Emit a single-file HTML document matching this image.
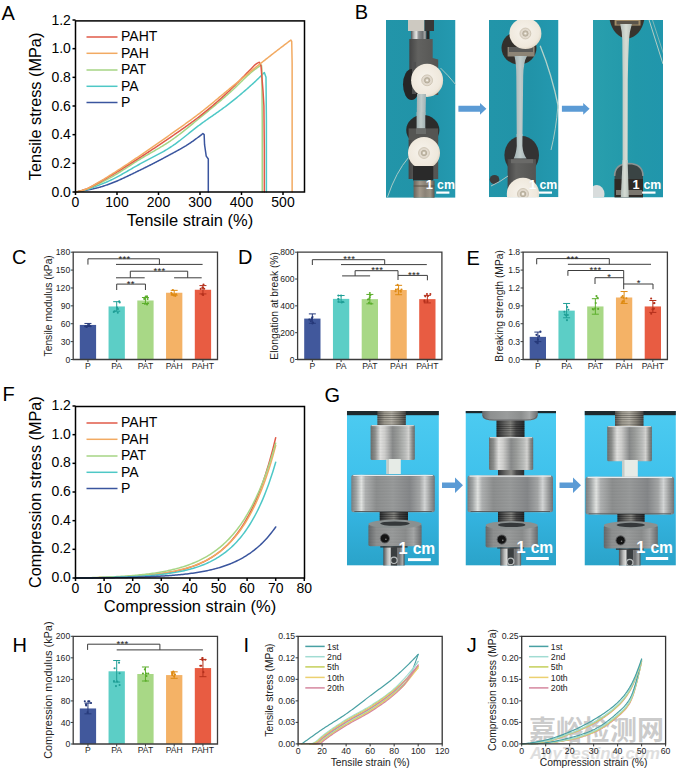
<!DOCTYPE html><html><head><meta charset="utf-8"><title>Figure</title><style>html,body{margin:0;padding:0;background:#fff;}svg{display:block;}</style></head><body>
<svg width="680" height="771" viewBox="0 0 680 771" font-family="'Liberation Sans', Arial, sans-serif">
<rect width="680" height="771" fill="#fff"/>
<defs>
<linearGradient id="tealB" x1="0" y1="0" x2="1" y2="0"><stop offset="0" stop-color="#2295a9"/><stop offset="0.6" stop-color="#2193a8"/><stop offset="1" stop-color="#2499b0"/></linearGradient><linearGradient id="tealB3" x1="0" y1="0" x2="1" y2="0"><stop offset="0" stop-color="#299fad"/><stop offset="0.6" stop-color="#2298aa"/><stop offset="1" stop-color="#2196ac"/></linearGradient>
<linearGradient id="cyanG" x1="0" y1="0" x2="0" y2="1"><stop offset="0" stop-color="#4ccbf1"/><stop offset="0.4" stop-color="#40c2ec"/><stop offset="0.7" stop-color="#33b2de"/><stop offset="1" stop-color="#2aa3c9"/></linearGradient>
<linearGradient id="metal" x1="0" y1="0" x2="1" y2="0"><stop offset="0" stop-color="#5e6062"/><stop offset="0.12" stop-color="#9a9c9c"/><stop offset="0.28" stop-color="#d9dad8"/><stop offset="0.4" stop-color="#a8aaaa"/><stop offset="0.55" stop-color="#6c6e70"/><stop offset="0.72" stop-color="#8e9092"/><stop offset="0.88" stop-color="#c4c6c6"/><stop offset="1" stop-color="#6a6c6e"/></linearGradient>
<linearGradient id="metal2" x1="0" y1="0" x2="1" y2="0"><stop offset="0" stop-color="#4e5052"/><stop offset="0.2" stop-color="#b8b9b8"/><stop offset="0.35" stop-color="#e6e6e4"/><stop offset="0.5" stop-color="#8c8e90"/><stop offset="0.75" stop-color="#6e7072"/><stop offset="0.9" stop-color="#a8aaaa"/><stop offset="1" stop-color="#505254"/></linearGradient>
<linearGradient id="metalD" x1="0" y1="0" x2="1" y2="0"><stop offset="0" stop-color="#7c8082"/><stop offset="0.06" stop-color="#a4a8a8"/><stop offset="0.12" stop-color="#e4e6e4"/><stop offset="0.17" stop-color="#b0b2b2"/><stop offset="0.3" stop-color="#8e9090"/><stop offset="0.5" stop-color="#9a9c9c"/><stop offset="0.7" stop-color="#86888a"/><stop offset="0.82" stop-color="#a6a8a8"/><stop offset="0.88" stop-color="#d6d8d8"/><stop offset="0.94" stop-color="#a2a4a4"/><stop offset="1" stop-color="#72767a"/></linearGradient>
<linearGradient id="metalC" x1="0" y1="0" x2="1" y2="0"><stop offset="0" stop-color="#6e706e"/><stop offset="0.1" stop-color="#8e908e"/><stop offset="0.22" stop-color="#e2e2e0"/><stop offset="0.32" stop-color="#d0d0ce"/><stop offset="0.5" stop-color="#8a8c8c"/><stop offset="0.62" stop-color="#9c9e9c"/><stop offset="0.78" stop-color="#bcbebc"/><stop offset="0.86" stop-color="#d6d6d4"/><stop offset="0.94" stop-color="#8e908e"/><stop offset="1" stop-color="#6a6c6c"/></linearGradient>
<pattern id="fine" width="6" height="1.5" patternUnits="userSpaceOnUse"><rect y="0.9" width="6" height="0.6" fill="#000" fill-opacity="0.06"/></pattern>
<linearGradient id="nut" x1="0" y1="0" x2="1" y2="0"><stop offset="0" stop-color="#6a625a"/><stop offset="0.3" stop-color="#a49a8c"/><stop offset="0.55" stop-color="#8a8276"/><stop offset="0.8" stop-color="#9c9486"/><stop offset="1" stop-color="#5c554e"/></linearGradient>
<linearGradient id="threadL" x1="0" y1="0" x2="1" y2="0"><stop offset="0" stop-color="#5e5c58"/><stop offset="0.25" stop-color="#a6a296"/><stop offset="0.5" stop-color="#bdb9ae"/><stop offset="0.75" stop-color="#8c887e"/><stop offset="1" stop-color="#4e4c4a"/></linearGradient>
<linearGradient id="knurl" x1="0" y1="0" x2="1" y2="0"><stop offset="0" stop-color="#66696b"/><stop offset="0.15" stop-color="#8e9090"/><stop offset="0.45" stop-color="#9a9c9c"/><stop offset="0.7" stop-color="#8c8e8e"/><stop offset="0.85" stop-color="#a6a8a8"/><stop offset="1" stop-color="#6a6c6e"/></linearGradient>
<linearGradient id="thread" x1="0" y1="0" x2="1" y2="0"><stop offset="0" stop-color="#2e3032"/><stop offset="0.3" stop-color="#6a6a68"/><stop offset="0.5" stop-color="#8a8a86"/><stop offset="0.7" stop-color="#4a4a4a"/><stop offset="1" stop-color="#2a2c2e"/></linearGradient>
<pattern id="threads" width="4" height="2.2" patternUnits="userSpaceOnUse"><rect width="4" height="2.2" fill="none"/><rect y="1.3" width="4" height="0.9" fill="#000" fill-opacity="0.35"/></pattern>
<linearGradient id="grip" x1="0" y1="0" x2="1" y2="0"><stop offset="0" stop-color="#444444"/><stop offset="0.3" stop-color="#626260"/><stop offset="1" stop-color="#545452"/></linearGradient>
<radialGradient id="cream" cx="0.45" cy="0.45" r="0.6"><stop offset="0" stop-color="#f7f3ec"/><stop offset="0.8" stop-color="#efe8dc"/><stop offset="1" stop-color="#ddd2c0"/></radialGradient>
<linearGradient id="strip" x1="0" y1="0" x2="1" y2="0"><stop offset="0" stop-color="#9fb0b2"/><stop offset="0.5" stop-color="#c0cccb"/><stop offset="1" stop-color="#a2b2b4"/></linearGradient>
<linearGradient id="strip3" x1="0" y1="0" x2="1" y2="0"><stop offset="0" stop-color="#b2bdb8"/><stop offset="0.5" stop-color="#d6dcd4"/><stop offset="1" stop-color="#b6c0ba"/></linearGradient>
<clipPath id="cB1"><rect x="386" y="20" width="69.5" height="177.8"/></clipPath>
<clipPath id="cB2"><rect x="489" y="20" width="69.5" height="177.2"/></clipPath>
<clipPath id="cB3"><rect x="593" y="20" width="70" height="177.5"/></clipPath>
<clipPath id="cG1"><rect x="346.9" y="411" width="92" height="154.6"/></clipPath>
<clipPath id="cG2"><rect x="465.5" y="411" width="90.5" height="154.6"/></clipPath>
<clipPath id="cG3"><rect x="584.5" y="411" width="91.4" height="154.6"/></clipPath>
</defs>
<text x="1.5" y="20" font-size="20" text-anchor="start" fill="#000" >A</text>
<text x="354.8" y="19.3" font-size="20" text-anchor="start" fill="#000" >B</text>
<text x="12" y="263.6" font-size="20" text-anchor="start" fill="#000" >C</text>
<text x="238" y="264" font-size="20" text-anchor="start" fill="#000" >D</text>
<text x="466.5" y="265" font-size="20" text-anchor="start" fill="#000" >E</text>
<text x="2.6" y="401" font-size="20" text-anchor="start" fill="#000" >F</text>
<text x="324.5" y="402" font-size="20" text-anchor="start" fill="#000" >G</text>
<text x="12.5" y="651.5" font-size="20" text-anchor="start" fill="#000" >H</text>
<text x="243.5" y="651.5" font-size="20" text-anchor="start" fill="#000" >I</text>
<text x="466.7" y="651.5" font-size="20" text-anchor="start" fill="#000" >J</text>
<path d="M75.5,192 L76.14,191.91 L76.78,191.81 L77.42,191.72 L78.06,191.62 L78.7,191.52 L79.34,191.42 L79.98,191.31 L80.62,191.21 L81.26,191.1 L81.9,190.99 L82.54,190.88 L83.18,190.77 L83.82,190.65 L84.46,190.54 L85.1,190.42 L85.74,190.3 L86.38,190.18 L87.02,190.06 L87.66,189.94 L88.3,189.82 L88.94,189.69 L89.58,189.57 L90.23,189.44 L90.87,189.31 L91.51,189.18 L92.15,189.04 L92.79,188.91 L93.43,188.77 L94.07,188.62 L94.71,188.48 L95.35,188.33 L95.99,188.18 L96.63,188.02 L97.27,187.86 L97.91,187.7 L98.55,187.53 L99.19,187.36 L99.83,187.18 L100.47,187 L101.11,186.81 L101.75,186.62 L102.39,186.42 L103.03,186.22 L103.67,186.02 L104.31,185.81 L104.95,185.59 L105.59,185.38 L106.23,185.16 L106.87,184.94 L107.51,184.71 L108.15,184.48 L108.79,184.25 L109.43,184.02 L110.07,183.78 L110.71,183.54 L111.35,183.3 L111.99,183.06 L112.63,182.81 L113.27,182.55 L113.91,182.3 L114.55,182.04 L115.19,181.77 L115.83,181.51 L116.47,181.24 L117.11,180.96 L117.75,180.69 L118.4,180.41 L119.04,180.13 L119.68,179.84 L120.32,179.56 L120.96,179.27 L121.6,178.98 L122.24,178.69 L122.88,178.39 L123.52,178.09 L124.16,177.8 L124.8,177.5 L125.44,177.19 L126.08,176.89 L126.72,176.59 L127.36,176.28 L128,175.97 L128.64,175.66 L129.28,175.35 L129.92,175.04 L130.56,174.73 L131.2,174.42 L131.84,174.11 L132.48,173.8 L133.12,173.48 L133.76,173.17 L134.4,172.86 L135.04,172.55 L135.68,172.23 L136.32,171.92 L136.96,171.61 L137.6,171.29 L138.24,170.98 L138.88,170.67 L139.52,170.36 L140.16,170.05 L140.8,169.74 L141.44,169.43 L142.08,169.12 L142.72,168.8 L143.36,168.49 L144,168.17 L144.64,167.85 L145.28,167.54 L145.92,167.22 L146.57,166.9 L147.21,166.58 L147.85,166.26 L148.49,165.94 L149.13,165.61 L149.77,165.29 L150.41,164.96 L151.05,164.64 L151.69,164.31 L152.33,163.99 L152.97,163.66 L153.61,163.33 L154.25,163 L154.89,162.67 L155.53,162.34 L156.17,162.01 L156.81,161.67 L157.45,161.34 L158.09,161 L158.73,160.67 L159.37,160.33 L160.01,160 L160.65,159.66 L161.29,159.32 L161.93,158.98 L162.57,158.64 L163.21,158.3 L163.85,157.96 L164.49,157.62 L165.13,157.28 L165.77,156.94 L166.41,156.59 L167.05,156.25 L167.69,155.9 L168.33,155.56 L168.97,155.21 L169.61,154.87 L170.25,154.52 L170.89,154.17 L171.53,153.83 L172.17,153.48 L172.81,153.14 L173.45,152.79 L174.09,152.44 L174.74,152.1 L175.38,151.75 L176.02,151.4 L176.66,151.06 L177.3,150.71 L177.94,150.35 L178.58,150 L179.22,149.64 L179.86,149.29 L180.5,148.93 L181.14,148.56 L181.78,148.19 L182.42,147.82 L183.06,147.45 L183.7,147.07 L184.34,146.69 L184.98,146.3 L185.62,145.91 L186.26,145.52 L186.9,145.11 L187.54,144.71 L188.18,144.3 L188.82,143.88 L189.46,143.46 L190.1,143.03 L190.74,142.6 L191.38,142.16 L192.02,141.71 L192.66,141.27 L193.3,140.81 L193.94,140.36 L194.58,139.9 L195.22,139.43 L195.86,138.96 L196.5,138.48 L197.14,138.01 L197.78,137.52 L198.42,137.04 L199.06,136.54 L199.7,136.05 L200.34,135.55 L200.98,135.05 L201.62,134.54 L202.26,134.03 L202.9,133.52 L204.15,134.67 L204.56,144.7 L206.22,156.17 L208.3,159.03 L208.3,192" fill="none" stroke="#3a559e" stroke-width="1.5" stroke-linejoin="round" stroke-linecap="round" />
<path d="M75.5,192 L76.45,191.86 L77.4,191.71 L78.35,191.54 L79.3,191.37 L80.24,191.18 L81.19,190.98 L82.14,190.76 L83.09,190.54 L84.04,190.32 L84.99,190.08 L85.94,189.83 L86.89,189.57 L87.84,189.29 L88.78,188.99 L89.73,188.67 L90.68,188.33 L91.63,187.98 L92.58,187.63 L93.53,187.26 L94.48,186.89 L95.43,186.52 L96.38,186.15 L97.32,185.78 L98.27,185.41 L99.22,185.04 L100.17,184.67 L101.12,184.3 L102.07,183.92 L103.02,183.54 L103.97,183.15 L104.91,182.75 L105.86,182.35 L106.81,181.94 L107.76,181.53 L108.71,181.1 L109.66,180.67 L110.61,180.22 L111.56,179.77 L112.51,179.3 L113.45,178.83 L114.4,178.35 L115.35,177.86 L116.3,177.36 L117.25,176.86 L118.2,176.35 L119.15,175.83 L120.1,175.31 L121.05,174.78 L121.99,174.25 L122.94,173.72 L123.89,173.18 L124.84,172.63 L125.79,172.09 L126.74,171.54 L127.69,170.99 L128.64,170.44 L129.59,169.89 L130.53,169.34 L131.48,168.79 L132.43,168.24 L133.38,167.69 L134.33,167.15 L135.28,166.6 L136.23,166.06 L137.18,165.53 L138.13,164.99 L139.07,164.47 L140.02,163.94 L140.97,163.42 L141.92,162.91 L142.87,162.4 L143.82,161.9 L144.77,161.39 L145.72,160.89 L146.67,160.4 L147.61,159.9 L148.56,159.41 L149.51,158.92 L150.46,158.42 L151.41,157.93 L152.36,157.44 L153.31,156.94 L154.26,156.45 L155.21,155.95 L156.15,155.45 L157.1,154.94 L158.05,154.44 L159,153.92 L159.95,153.41 L160.9,152.88 L161.85,152.35 L162.8,151.82 L163.74,151.28 L164.69,150.73 L165.64,150.17 L166.59,149.61 L167.54,149.03 L168.49,148.45 L169.44,147.86 L170.39,147.25 L171.34,146.63 L172.28,146 L173.23,145.35 L174.18,144.69 L175.13,144.02 L176.08,143.33 L177.03,142.63 L177.98,141.93 L178.93,141.21 L179.88,140.49 L180.82,139.75 L181.77,139.01 L182.72,138.27 L183.67,137.52 L184.62,136.76 L185.57,136 L186.52,135.24 L187.47,134.48 L188.42,133.72 L189.36,132.95 L190.31,132.19 L191.26,131.43 L192.21,130.67 L193.16,129.91 L194.11,129.16 L195.06,128.41 L196.01,127.67 L196.96,126.94 L197.9,126.21 L198.85,125.49 L199.8,124.78 L200.75,124.08 L201.7,123.39 L202.65,122.7 L203.6,122.01 L204.55,121.33 L205.5,120.66 L206.44,119.99 L207.39,119.32 L208.34,118.65 L209.29,117.99 L210.24,117.33 L211.19,116.67 L212.14,116.01 L213.09,115.35 L214.03,114.68 L214.98,114.02 L215.93,113.36 L216.88,112.7 L217.83,112.03 L218.78,111.36 L219.73,110.68 L220.68,110.01 L221.63,109.33 L222.57,108.64 L223.52,107.95 L224.47,107.25 L225.42,106.54 L226.37,105.83 L227.32,105.12 L228.27,104.39 L229.22,103.65 L230.17,102.91 L231.11,102.16 L232.06,101.41 L233.01,100.65 L233.96,99.89 L234.91,99.12 L235.86,98.35 L236.81,97.57 L237.76,96.79 L238.71,96 L239.65,95.21 L240.6,94.41 L241.55,93.61 L242.5,92.8 L243.45,91.99 L244.4,91.17 L245.35,90.35 L246.3,89.52 L247.25,88.69 L248.19,87.85 L249.14,87.01 L250.09,86.16 L251.04,85.3 L251.99,84.44 L252.94,83.58 L253.89,82.71 L254.84,81.83 L255.79,80.95 L256.73,80.06 L257.68,79.16 L258.63,78.26 L259.58,77.33 L260.53,76.38 L261.48,75.42 L262.43,74.44 L263.38,73.45 L264.32,72.46 L265.99,77.34 L266.4,120.33 L266.4,192" fill="none" stroke="#4ec8c6" stroke-width="1.5" stroke-linejoin="round" stroke-linecap="round" />
<path d="M75.5,192 L76.43,191.84 L77.37,191.67 L78.3,191.47 L79.24,191.26 L80.17,191.04 L81.11,190.8 L82.04,190.56 L82.97,190.29 L83.91,190.02 L84.84,189.74 L85.78,189.45 L86.71,189.14 L87.65,188.81 L88.58,188.45 L89.51,188.06 L90.45,187.66 L91.38,187.24 L92.32,186.81 L93.25,186.37 L94.19,185.92 L95.12,185.46 L96.05,185.01 L96.99,184.56 L97.92,184.11 L98.86,183.67 L99.79,183.22 L100.73,182.76 L101.66,182.3 L102.59,181.83 L103.53,181.36 L104.46,180.88 L105.4,180.4 L106.33,179.91 L107.27,179.41 L108.2,178.91 L109.13,178.4 L110.07,177.89 L111,177.36 L111.94,176.83 L112.87,176.29 L113.81,175.74 L114.74,175.19 L115.67,174.63 L116.61,174.06 L117.54,173.49 L118.48,172.91 L119.41,172.33 L120.35,171.75 L121.28,171.16 L122.21,170.56 L123.15,169.97 L124.08,169.37 L125.02,168.77 L125.95,168.16 L126.88,167.56 L127.82,166.96 L128.75,166.35 L129.69,165.75 L130.62,165.14 L131.56,164.54 L132.49,163.94 L133.42,163.34 L134.36,162.74 L135.29,162.15 L136.23,161.56 L137.16,160.97 L138.1,160.39 L139.03,159.81 L139.96,159.24 L140.9,158.67 L141.83,158.1 L142.77,157.55 L143.7,156.99 L144.64,156.44 L145.57,155.9 L146.5,155.35 L147.44,154.81 L148.37,154.27 L149.31,153.73 L150.24,153.2 L151.18,152.66 L152.11,152.12 L153.04,151.59 L153.98,151.05 L154.91,150.51 L155.85,149.97 L156.78,149.43 L157.72,148.88 L158.65,148.33 L159.58,147.77 L160.52,147.22 L161.45,146.65 L162.39,146.09 L163.32,145.51 L164.26,144.93 L165.19,144.35 L166.12,143.75 L167.06,143.15 L167.99,142.54 L168.93,141.92 L169.86,141.29 L170.8,140.66 L171.73,140.01 L172.66,139.35 L173.6,138.69 L174.53,138.01 L175.47,137.33 L176.4,136.64 L177.34,135.94 L178.27,135.23 L179.2,134.52 L180.14,133.8 L181.07,133.08 L182.01,132.35 L182.94,131.61 L183.88,130.87 L184.81,130.13 L185.74,129.38 L186.68,128.63 L187.61,127.88 L188.55,127.12 L189.48,126.36 L190.42,125.6 L191.35,124.83 L192.28,124.07 L193.22,123.3 L194.15,122.53 L195.09,121.77 L196.02,121 L196.96,120.24 L197.89,119.47 L198.82,118.71 L199.76,117.95 L200.69,117.19 L201.63,116.43 L202.56,115.67 L203.5,114.91 L204.43,114.14 L205.36,113.38 L206.3,112.61 L207.23,111.84 L208.17,111.07 L209.1,110.29 L210.04,109.52 L210.97,108.74 L211.9,107.96 L212.84,107.18 L213.77,106.4 L214.71,105.62 L215.64,104.83 L216.57,104.04 L217.51,103.25 L218.44,102.45 L219.38,101.66 L220.31,100.86 L221.25,100.06 L222.18,99.25 L223.11,98.45 L224.05,97.64 L224.98,96.83 L225.92,96.01 L226.85,95.2 L227.79,94.38 L228.72,93.55 L229.65,92.73 L230.59,91.9 L231.52,91.05 L232.46,90.18 L233.39,89.31 L234.33,88.42 L235.26,87.52 L236.19,86.62 L237.13,85.71 L238.06,84.79 L239,83.87 L239.93,82.95 L240.87,82.04 L241.8,81.12 L242.73,80.21 L243.67,79.3 L244.6,78.4 L245.54,77.51 L246.47,76.63 L247.41,75.76 L248.34,74.91 L249.27,74.07 L250.21,73.25 L251.14,72.45 L252.08,71.67 L253.01,70.91 L253.95,70.17 L254.88,69.46 L255.81,68.78 L256.75,68.11 L257.68,67.46 L258.62,66.83 L259.55,66.21 L260.49,65.61 L261.42,65.01 L261.83,68.74 L262.25,120.33 L262.25,192" fill="none" stroke="#a6d585" stroke-width="1.5" stroke-linejoin="round" stroke-linecap="round" />
<path d="M75.5,192 L76.42,191.83 L77.35,191.64 L78.27,191.43 L79.2,191.2 L80.12,190.96 L81.04,190.7 L81.97,190.43 L82.89,190.14 L83.81,189.84 L84.74,189.53 L85.66,189.21 L86.59,188.87 L87.51,188.5 L88.43,188.1 L89.36,187.67 L90.28,187.22 L91.21,186.75 L92.13,186.27 L93.05,185.77 L93.98,185.27 L94.9,184.76 L95.82,184.25 L96.75,183.74 L97.67,183.24 L98.6,182.75 L99.52,182.24 L100.44,181.73 L101.37,181.22 L102.29,180.7 L103.22,180.17 L104.14,179.64 L105.06,179.11 L105.99,178.57 L106.91,178.03 L107.83,177.48 L108.76,176.94 L109.68,176.39 L110.61,175.84 L111.53,175.29 L112.45,174.74 L113.38,174.18 L114.3,173.62 L115.23,173.07 L116.15,172.5 L117.07,171.94 L118,171.37 L118.92,170.81 L119.84,170.24 L120.77,169.67 L121.69,169.09 L122.62,168.52 L123.54,167.94 L124.46,167.37 L125.39,166.79 L126.31,166.21 L127.24,165.63 L128.16,165.04 L129.08,164.46 L130.01,163.87 L130.93,163.29 L131.85,162.7 L132.78,162.11 L133.7,161.52 L134.63,160.93 L135.55,160.34 L136.47,159.75 L137.4,159.16 L138.32,158.57 L139.25,157.97 L140.17,157.38 L141.09,156.79 L142.02,156.19 L142.94,155.6 L143.86,155 L144.79,154.4 L145.71,153.8 L146.64,153.2 L147.56,152.6 L148.48,152 L149.41,151.4 L150.33,150.8 L151.26,150.19 L152.18,149.59 L153.1,148.98 L154.03,148.37 L154.95,147.76 L155.87,147.15 L156.8,146.54 L157.72,145.93 L158.65,145.31 L159.57,144.69 L160.49,144.08 L161.42,143.46 L162.34,142.83 L163.27,142.21 L164.19,141.59 L165.11,140.96 L166.04,140.33 L166.96,139.7 L167.88,139.07 L168.81,138.44 L169.73,137.8 L170.66,137.16 L171.58,136.53 L172.5,135.89 L173.43,135.25 L174.35,134.62 L175.28,133.98 L176.2,133.34 L177.12,132.7 L178.05,132.06 L178.97,131.42 L179.89,130.77 L180.82,130.13 L181.74,129.48 L182.67,128.83 L183.59,128.18 L184.51,127.53 L185.44,126.87 L186.36,126.21 L187.29,125.55 L188.21,124.89 L189.13,124.22 L190.06,123.54 L190.98,122.87 L191.9,122.19 L192.83,121.51 L193.75,120.82 L194.68,120.12 L195.6,119.43 L196.52,118.72 L197.45,118.02 L198.37,117.3 L199.3,116.59 L200.22,115.86 L201.14,115.13 L202.07,114.4 L202.99,113.66 L203.91,112.92 L204.84,112.17 L205.76,111.42 L206.69,110.66 L207.61,109.9 L208.53,109.13 L209.46,108.36 L210.38,107.59 L211.31,106.81 L212.23,106.02 L213.15,105.23 L214.08,104.44 L215,103.64 L215.92,102.84 L216.85,102.03 L217.77,101.22 L218.7,100.41 L219.62,99.59 L220.54,98.77 L221.47,97.94 L222.39,97.11 L223.32,96.28 L224.24,95.44 L225.16,94.6 L226.09,93.75 L227.01,92.9 L227.93,92.05 L228.86,91.19 L229.78,90.33 L230.71,89.46 L231.63,88.58 L232.55,87.68 L233.48,86.78 L234.4,85.86 L235.33,84.94 L236.25,84 L237.17,83.07 L238.1,82.12 L239.02,81.17 L239.94,80.22 L240.87,79.27 L241.79,78.32 L242.72,77.36 L243.64,76.41 L244.56,75.46 L245.49,74.51 L246.41,73.57 L247.34,72.63 L248.26,71.7 L249.18,70.78 L250.11,69.86 L251.03,68.9 L251.95,67.9 L252.88,66.9 L253.8,65.94 L254.73,65.06 L255.65,64.28 L256.57,63.64 L257.5,63.1 L258.42,62.65 L259.35,62.29 L261,65.87 L263.08,91.67 L263.91,106 L264.32,149 L264.32,192" fill="none" stroke="#e05a48" stroke-width="1.5" stroke-linejoin="round" stroke-linecap="round" />
<path d="M75.5,192 L76.58,191.81 L77.66,191.6 L78.75,191.35 L79.83,191.07 L80.91,190.77 L81.99,190.44 L83.08,190.1 L84.16,189.74 L85.24,189.36 L86.32,188.97 L87.41,188.52 L88.49,188.03 L89.57,187.49 L90.65,186.91 L91.74,186.31 L92.82,185.69 L93.9,185.05 L94.98,184.4 L96.06,183.76 L97.15,183.12 L98.23,182.5 L99.31,181.88 L100.39,181.24 L101.48,180.6 L102.56,179.95 L103.64,179.29 L104.72,178.63 L105.81,177.96 L106.89,177.29 L107.97,176.61 L109.05,175.93 L110.13,175.25 L111.22,174.57 L112.3,173.89 L113.38,173.2 L114.46,172.51 L115.55,171.82 L116.63,171.12 L117.71,170.42 L118.79,169.72 L119.88,169.02 L120.96,168.31 L122.04,167.6 L123.12,166.89 L124.21,166.18 L125.29,165.47 L126.37,164.75 L127.45,164.04 L128.53,163.32 L129.62,162.6 L130.7,161.87 L131.78,161.15 L132.86,160.42 L133.95,159.7 L135.03,158.97 L136.11,158.24 L137.19,157.51 L138.28,156.78 L139.36,156.05 L140.44,155.32 L141.52,154.59 L142.6,153.85 L143.69,153.12 L144.77,152.38 L145.85,151.64 L146.93,150.89 L148.02,150.15 L149.1,149.4 L150.18,148.66 L151.26,147.91 L152.35,147.16 L153.43,146.41 L154.51,145.65 L155.59,144.9 L156.68,144.14 L157.76,143.39 L158.84,142.63 L159.92,141.87 L161,141.11 L162.09,140.35 L163.17,139.58 L164.25,138.82 L165.33,138.06 L166.42,137.29 L167.5,136.53 L168.58,135.76 L169.66,134.99 L170.75,134.22 L171.83,133.46 L172.91,132.69 L173.99,131.93 L175.07,131.16 L176.16,130.4 L177.24,129.63 L178.32,128.86 L179.4,128.1 L180.49,127.33 L181.57,126.56 L182.65,125.79 L183.73,125.02 L184.82,124.24 L185.9,123.47 L186.98,122.69 L188.06,121.91 L189.15,121.12 L190.23,120.33 L191.31,119.54 L192.39,118.75 L193.47,117.95 L194.56,117.14 L195.64,116.33 L196.72,115.52 L197.8,114.7 L198.89,113.88 L199.97,113.05 L201.05,112.21 L202.13,111.37 L203.22,110.52 L204.3,109.66 L205.38,108.79 L206.46,107.92 L207.55,107.05 L208.63,106.17 L209.71,105.28 L210.79,104.39 L211.87,103.5 L212.96,102.6 L214.04,101.71 L215.12,100.8 L216.2,99.9 L217.29,99 L218.37,98.09 L219.45,97.18 L220.53,96.28 L221.62,95.37 L222.7,94.47 L223.78,93.56 L224.86,92.66 L225.94,91.76 L227.03,90.86 L228.11,89.97 L229.19,89.08 L230.27,88.19 L231.36,87.31 L232.44,86.42 L233.52,85.53 L234.6,84.64 L235.69,83.74 L236.77,82.85 L237.85,81.96 L238.93,81.07 L240.02,80.17 L241.1,79.28 L242.18,78.39 L243.26,77.5 L244.34,76.61 L245.43,75.72 L246.51,74.83 L247.59,73.94 L248.67,73.05 L249.76,72.17 L250.84,71.29 L251.92,70.41 L253,69.53 L254.09,68.65 L255.17,67.78 L256.25,66.91 L257.33,66.04 L258.41,65.18 L259.5,64.32 L260.58,63.46 L261.66,62.6 L262.74,61.74 L263.83,60.89 L264.91,60.04 L265.99,59.19 L267.07,58.34 L268.16,57.49 L269.24,56.64 L270.32,55.8 L271.4,54.95 L272.49,54.11 L273.57,53.27 L274.65,52.44 L275.73,51.6 L276.81,50.76 L277.9,49.93 L278.98,49.1 L280.06,48.27 L281.14,47.44 L282.23,46.62 L283.31,45.79 L284.39,44.97 L285.47,44.15 L286.56,43.33 L287.64,42.51 L288.72,41.7 L289.8,40.88 L290.88,40.07 L291.72,41.5 L292.13,63 L292.13,192" fill="none" stroke="#f2aa62" stroke-width="1.5" stroke-linejoin="round" stroke-linecap="round" />
<rect x="75.5" y="20.9" width="229.0" height="171.1" fill="none" stroke="#000" stroke-width="1.5"/>
<line x1="72.5" y1="192" x2="75.5" y2="192" stroke="#000" stroke-width="1.5" />
<text x="70.9" y="196.7" font-size="14" text-anchor="end" fill="#000" >0.0</text>
<line x1="72.5" y1="163.33" x2="75.5" y2="163.33" stroke="#000" stroke-width="1.5" />
<text x="70.9" y="168.03" font-size="14" text-anchor="end" fill="#000" >0.2</text>
<line x1="72.5" y1="134.67" x2="75.5" y2="134.67" stroke="#000" stroke-width="1.5" />
<text x="70.9" y="139.37" font-size="14" text-anchor="end" fill="#000" >0.4</text>
<line x1="72.5" y1="106" x2="75.5" y2="106" stroke="#000" stroke-width="1.5" />
<text x="70.9" y="110.7" font-size="14" text-anchor="end" fill="#000" >0.6</text>
<line x1="72.5" y1="77.34" x2="75.5" y2="77.34" stroke="#000" stroke-width="1.5" />
<text x="70.9" y="82.04" font-size="14" text-anchor="end" fill="#000" >0.8</text>
<line x1="72.5" y1="48.67" x2="75.5" y2="48.67" stroke="#000" stroke-width="1.5" />
<text x="70.9" y="53.37" font-size="14" text-anchor="end" fill="#000" >1.0</text>
<line x1="72.5" y1="20" x2="75.5" y2="20" stroke="#000" stroke-width="1.5" />
<text x="70.9" y="24.7" font-size="14" text-anchor="end" fill="#000" >1.2</text>
<line x1="75.5" y1="192" x2="75.5" y2="195" stroke="#000" stroke-width="1.5" />
<text x="75.5" y="207.2" font-size="14" text-anchor="middle" fill="#000" >0</text>
<line x1="117" y1="192" x2="117" y2="195" stroke="#000" stroke-width="1.5" />
<text x="117" y="207.2" font-size="14" text-anchor="middle" fill="#000" >100</text>
<line x1="158.5" y1="192" x2="158.5" y2="195" stroke="#000" stroke-width="1.5" />
<text x="158.5" y="207.2" font-size="14" text-anchor="middle" fill="#000" >200</text>
<line x1="200" y1="192" x2="200" y2="195" stroke="#000" stroke-width="1.5" />
<text x="200" y="207.2" font-size="14" text-anchor="middle" fill="#000" >300</text>
<line x1="241.5" y1="192" x2="241.5" y2="195" stroke="#000" stroke-width="1.5" />
<text x="241.5" y="207.2" font-size="14" text-anchor="middle" fill="#000" >400</text>
<line x1="283" y1="192" x2="283" y2="195" stroke="#000" stroke-width="1.5" />
<text x="283" y="207.2" font-size="14" text-anchor="middle" fill="#000" >500</text>
<text x="190" y="225.7" font-size="16.5" text-anchor="middle" fill="#000" >Tensile strain (%)</text>
<text transform="translate(41.3,106.4) rotate(-90)" font-size="16.3" text-anchor="middle">Tensile stress (MPa)</text>
<line x1="86.5" y1="37" x2="117.5" y2="37" stroke="#e05a48" stroke-width="1.5" />
<text x="121" y="41.4" font-size="14" text-anchor="start" fill="#000" >PAHT</text>
<line x1="86.5" y1="53.3" x2="117.5" y2="53.3" stroke="#f2aa62" stroke-width="1.5" />
<text x="121" y="57.7" font-size="14" text-anchor="start" fill="#000" >PAH</text>
<line x1="86.5" y1="70" x2="117.5" y2="70" stroke="#a6d585" stroke-width="1.5" />
<text x="121" y="74.4" font-size="14" text-anchor="start" fill="#000" >PAT</text>
<line x1="86.5" y1="86.3" x2="117.5" y2="86.3" stroke="#4ec8c6" stroke-width="1.5" />
<text x="121" y="90.7" font-size="14" text-anchor="start" fill="#000" >PA</text>
<line x1="86.5" y1="102.5" x2="117.5" y2="102.5" stroke="#3a559e" stroke-width="1.5" />
<text x="121" y="106.9" font-size="14" text-anchor="start" fill="#000" >P</text>
<path d="M75.5,578 L76.93,577.98 L78.36,577.97 L79.79,577.95 L81.22,577.93 L82.65,577.91 L84.08,577.89 L85.51,577.87 L86.94,577.85 L88.37,577.83 L89.8,577.81 L91.23,577.78 L92.66,577.76 L94.09,577.73 L95.52,577.7 L96.95,577.67 L98.38,577.64 L99.81,577.61 L101.24,577.58 L102.67,577.54 L104.1,577.51 L105.53,577.47 L106.96,577.43 L108.39,577.39 L109.82,577.35 L111.25,577.31 L112.68,577.26 L114.11,577.21 L115.54,577.16 L116.97,577.11 L118.4,577.05 L119.83,577 L121.26,576.94 L122.69,576.88 L124.12,576.81 L125.55,576.74 L126.98,576.67 L128.41,576.6 L129.84,576.52 L131.27,576.44 L132.7,576.36 L134.13,576.27 L135.56,576.18 L136.99,576.09 L138.42,575.99 L139.85,575.88 L141.28,575.78 L142.71,575.66 L144.14,575.55 L145.57,575.42 L147,575.3 L148.43,575.16 L149.86,575.02 L151.29,574.88 L152.72,574.73 L154.15,574.57 L155.58,574.41 L157.01,574.23 L158.44,574.05 L159.87,573.87 L161.3,573.67 L162.73,573.47 L164.16,573.25 L165.59,573.03 L167.02,572.8 L168.45,572.56 L169.88,572.31 L171.31,572.04 L172.74,571.77 L174.17,571.48 L175.6,571.18 L177.03,570.87 L178.46,570.55 L179.89,570.21 L181.32,569.85 L182.75,569.48 L184.18,569.1 L185.61,568.7 L187.04,568.28 L188.47,567.84 L189.9,567.38 L191.33,566.9 L192.76,566.41 L194.19,565.89 L195.62,565.35 L197.05,564.78 L198.48,564.19 L199.91,563.58 L201.34,562.93 L202.77,562.26 L204.2,561.56 L205.63,560.83 L207.06,560.07 L208.49,559.28 L209.92,558.45 L211.35,557.59 L212.78,556.68 L214.21,555.74 L215.64,554.76 L217.07,553.73 L218.5,552.67 L219.93,551.55 L221.36,550.39 L222.79,549.17 L224.22,547.9 L225.65,546.58 L227.08,545.2 L228.51,543.76 L229.94,542.26 L231.37,540.69 L232.8,539.05 L234.23,537.35 L235.66,535.57 L237.09,533.71 L238.52,531.77 L239.95,529.75 L241.38,527.64 L242.81,525.43 L244.24,523.14 L245.67,520.74 L247.1,518.24 L248.53,515.62 L249.96,512.9 L251.39,510.06 L252.82,507.09 L254.25,504 L255.68,500.77 L257.11,497.4 L258.54,493.88 L259.97,490.22 L261.4,486.39 L262.83,482.4 L264.26,478.23 L265.69,473.88 L267.12,469.35 L268.55,464.61 L269.98,459.67 L271.41,454.52 L272.84,449.14 L274.27,443.53 L275.7,437.68" fill="none" stroke="#e05a48" stroke-width="1.5" stroke-linejoin="round" stroke-linecap="round" />
<path d="M75.5,578 L76.93,577.98 L78.36,577.96 L79.79,577.94 L81.22,577.92 L82.65,577.9 L84.08,577.88 L85.51,577.86 L86.94,577.83 L88.37,577.81 L89.8,577.78 L91.23,577.76 L92.66,577.73 L94.09,577.7 L95.52,577.67 L96.95,577.64 L98.38,577.6 L99.81,577.57 L101.24,577.53 L102.67,577.5 L104.1,577.46 L105.53,577.42 L106.96,577.37 L108.39,577.33 L109.82,577.28 L111.25,577.24 L112.68,577.19 L114.11,577.13 L115.54,577.08 L116.97,577.02 L118.4,576.97 L119.83,576.9 L121.26,576.84 L122.69,576.77 L124.12,576.71 L125.55,576.63 L126.98,576.56 L128.41,576.48 L129.84,576.4 L131.27,576.31 L132.7,576.23 L134.13,576.13 L135.56,576.04 L136.99,575.94 L138.42,575.83 L139.85,575.72 L141.28,575.61 L142.71,575.49 L144.14,575.37 L145.57,575.24 L147,575.11 L148.43,574.97 L149.86,574.83 L151.29,574.67 L152.72,574.52 L154.15,574.35 L155.58,574.18 L157.01,574.01 L158.44,573.82 L159.87,573.63 L161.3,573.43 L162.73,573.22 L164.16,573 L165.59,572.77 L167.02,572.54 L168.45,572.29 L169.88,572.03 L171.31,571.77 L172.74,571.49 L174.17,571.2 L175.6,570.89 L177.03,570.58 L178.46,570.25 L179.89,569.91 L181.32,569.55 L182.75,569.18 L184.18,568.79 L185.61,568.39 L187.04,567.97 L188.47,567.53 L189.9,567.08 L191.33,566.6 L192.76,566.11 L194.19,565.59 L195.62,565.05 L197.05,564.49 L198.48,563.91 L199.91,563.3 L201.34,562.67 L202.77,562.01 L204.2,561.32 L205.63,560.61 L207.06,559.86 L208.49,559.08 L209.92,558.27 L211.35,557.43 L212.78,556.55 L214.21,555.64 L215.64,554.68 L217.07,553.69 L218.5,552.65 L219.93,551.58 L221.36,550.45 L222.79,549.28 L224.22,548.06 L225.65,546.79 L227.08,545.47 L228.51,544.09 L229.94,542.65 L231.37,541.15 L232.8,539.59 L234.23,537.97 L235.66,536.27 L237.09,534.51 L238.52,532.67 L239.95,530.76 L241.38,528.76 L242.81,526.68 L244.24,524.52 L245.67,522.26 L247.1,519.91 L248.53,517.46 L249.96,514.91 L251.39,512.25 L252.82,509.48 L254.25,506.6 L255.68,503.59 L257.11,500.46 L258.54,497.19 L259.97,493.79 L261.4,490.25 L262.83,486.56 L264.26,482.72 L265.69,478.71 L267.12,474.54 L268.55,470.19 L269.98,465.66 L271.41,460.94 L272.84,456.02 L274.27,450.9 L275.7,445.56" fill="none" stroke="#f2aa62" stroke-width="1.5" stroke-linejoin="round" stroke-linecap="round" />
<path d="M75.5,578 L76.93,577.97 L78.36,577.94 L79.79,577.92 L81.22,577.88 L82.65,577.85 L84.08,577.82 L85.51,577.79 L86.94,577.75 L88.37,577.71 L89.8,577.68 L91.23,577.64 L92.66,577.6 L94.09,577.55 L95.52,577.51 L96.95,577.46 L98.38,577.42 L99.81,577.37 L101.24,577.31 L102.67,577.26 L104.1,577.21 L105.53,577.15 L106.96,577.09 L108.39,577.03 L109.82,576.96 L111.25,576.89 L112.68,576.83 L114.11,576.75 L115.54,576.68 L116.97,576.6 L118.4,576.52 L119.83,576.44 L121.26,576.35 L122.69,576.26 L124.12,576.17 L125.55,576.07 L126.98,575.97 L128.41,575.86 L129.84,575.75 L131.27,575.64 L132.7,575.52 L134.13,575.4 L135.56,575.27 L136.99,575.14 L138.42,575.01 L139.85,574.87 L141.28,574.72 L142.71,574.57 L144.14,574.41 L145.57,574.24 L147,574.07 L148.43,573.89 L149.86,573.71 L151.29,573.52 L152.72,573.32 L154.15,573.12 L155.58,572.9 L157.01,572.68 L158.44,572.45 L159.87,572.21 L161.3,571.96 L162.73,571.7 L164.16,571.44 L165.59,571.16 L167.02,570.87 L168.45,570.57 L169.88,570.26 L171.31,569.93 L172.74,569.6 L174.17,569.25 L175.6,568.89 L177.03,568.51 L178.46,568.12 L179.89,567.72 L181.32,567.3 L182.75,566.86 L184.18,566.41 L185.61,565.94 L187.04,565.45 L188.47,564.95 L189.9,564.42 L191.33,563.87 L192.76,563.31 L194.19,562.72 L195.62,562.11 L197.05,561.47 L198.48,560.82 L199.91,560.13 L201.34,559.42 L202.77,558.68 L204.2,557.92 L205.63,557.12 L207.06,556.3 L208.49,555.44 L209.92,554.55 L211.35,553.63 L212.78,552.67 L214.21,551.68 L215.64,550.64 L217.07,549.57 L218.5,548.46 L219.93,547.3 L221.36,546.1 L222.79,544.86 L224.22,543.56 L225.65,542.22 L227.08,540.82 L228.51,539.38 L229.94,537.87 L231.37,536.31 L232.8,534.69 L234.23,533.01 L235.66,531.27 L237.09,529.45 L238.52,527.57 L239.95,525.62 L241.38,523.59 L242.81,521.48 L244.24,519.29 L245.67,517.02 L247.1,514.67 L248.53,512.22 L249.96,509.68 L251.39,507.04 L252.82,504.3 L254.25,501.46 L255.68,498.51 L257.11,495.44 L258.54,492.26 L259.97,488.96 L261.4,485.53 L262.83,481.96 L264.26,478.27 L265.69,474.43 L267.12,470.44 L268.55,466.31 L269.98,462.01 L271.41,457.55 L272.84,452.92 L274.27,448.12 L275.7,443.13" fill="none" stroke="#a6d585" stroke-width="1.5" stroke-linejoin="round" stroke-linecap="round" />
<path d="M75.5,578 L76.93,577.99 L78.36,577.97 L79.79,577.96 L81.22,577.94 L82.65,577.93 L84.08,577.91 L85.51,577.9 L86.94,577.88 L88.37,577.86 L89.8,577.84 L91.23,577.82 L92.66,577.8 L94.09,577.78 L95.52,577.75 L96.95,577.73 L98.38,577.71 L99.81,577.68 L101.24,577.65 L102.67,577.62 L104.1,577.59 L105.53,577.56 L106.96,577.53 L108.39,577.5 L109.82,577.46 L111.25,577.43 L112.68,577.39 L114.11,577.35 L115.54,577.31 L116.97,577.26 L118.4,577.22 L119.83,577.17 L121.26,577.12 L122.69,577.07 L124.12,577.02 L125.55,576.96 L126.98,576.91 L128.41,576.84 L129.84,576.78 L131.27,576.72 L132.7,576.65 L134.13,576.57 L135.56,576.5 L136.99,576.42 L138.42,576.34 L139.85,576.25 L141.28,576.17 L142.71,576.07 L144.14,575.98 L145.57,575.87 L147,575.77 L148.43,575.66 L149.86,575.54 L151.29,575.42 L152.72,575.3 L154.15,575.17 L155.58,575.03 L157.01,574.89 L158.44,574.74 L159.87,574.59 L161.3,574.43 L162.73,574.26 L164.16,574.08 L165.59,573.9 L167.02,573.71 L168.45,573.51 L169.88,573.3 L171.31,573.08 L172.74,572.86 L174.17,572.62 L175.6,572.38 L177.03,572.12 L178.46,571.85 L179.89,571.57 L181.32,571.28 L182.75,570.97 L184.18,570.65 L185.61,570.32 L187.04,569.98 L188.47,569.61 L189.9,569.24 L191.33,568.84 L192.76,568.43 L194.19,568 L195.62,567.56 L197.05,567.09 L198.48,566.6 L199.91,566.09 L201.34,565.56 L202.77,565.01 L204.2,564.43 L205.63,563.83 L207.06,563.2 L208.49,562.55 L209.92,561.87 L211.35,561.15 L212.78,560.41 L214.21,559.63 L215.64,558.82 L217.07,557.97 L218.5,557.09 L219.93,556.17 L221.36,555.21 L222.79,554.21 L224.22,553.16 L225.65,552.07 L227.08,550.93 L228.51,549.74 L229.94,548.5 L231.37,547.21 L232.8,545.86 L234.23,544.45 L235.66,542.98 L237.09,541.44 L238.52,539.84 L239.95,538.17 L241.38,536.43 L242.81,534.61 L244.24,532.72 L245.67,530.74 L247.1,528.67 L248.53,526.52 L249.96,524.27 L251.39,521.93 L252.82,519.48 L254.25,516.92 L255.68,514.26 L257.11,511.48 L258.54,508.58 L259.97,505.55 L261.4,502.39 L262.83,499.1 L264.26,495.66 L265.69,492.07 L267.12,488.32 L268.55,484.42 L269.98,480.34 L271.41,476.09 L272.84,471.65 L274.27,467.02 L275.7,462.19" fill="none" stroke="#4ec8c6" stroke-width="1.5" stroke-linejoin="round" stroke-linecap="round" />
<path d="M75.5,578 L76.93,577.99 L78.36,577.98 L79.79,577.98 L81.22,577.97 L82.65,577.96 L84.08,577.95 L85.51,577.94 L86.94,577.93 L88.37,577.92 L89.8,577.91 L91.23,577.9 L92.66,577.88 L94.09,577.87 L95.52,577.86 L96.95,577.84 L98.38,577.83 L99.81,577.82 L101.24,577.8 L102.67,577.78 L104.1,577.77 L105.53,577.75 L106.96,577.73 L108.39,577.71 L109.82,577.69 L111.25,577.67 L112.68,577.65 L114.11,577.63 L115.54,577.61 L116.97,577.59 L118.4,577.56 L119.83,577.53 L121.26,577.51 L122.69,577.48 L124.12,577.45 L125.55,577.42 L126.98,577.39 L128.41,577.36 L129.84,577.32 L131.27,577.29 L132.7,577.25 L134.13,577.21 L135.56,577.17 L136.99,577.13 L138.42,577.09 L139.85,577.04 L141.28,577 L142.71,576.95 L144.14,576.9 L145.57,576.84 L147,576.79 L148.43,576.73 L149.86,576.67 L151.29,576.61 L152.72,576.55 L154.15,576.48 L155.58,576.41 L157.01,576.34 L158.44,576.26 L159.87,576.18 L161.3,576.1 L162.73,576.02 L164.16,575.93 L165.59,575.84 L167.02,575.74 L168.45,575.64 L169.88,575.54 L171.31,575.43 L172.74,575.31 L174.17,575.2 L175.6,575.08 L177.03,574.95 L178.46,574.82 L179.89,574.68 L181.32,574.53 L182.75,574.39 L184.18,574.23 L185.61,574.07 L187.04,573.9 L188.47,573.73 L189.9,573.54 L191.33,573.35 L192.76,573.16 L194.19,572.95 L195.62,572.74 L197.05,572.51 L198.48,572.28 L199.91,572.04 L201.34,571.79 L202.77,571.53 L204.2,571.26 L205.63,570.98 L207.06,570.68 L208.49,570.37 L209.92,570.06 L211.35,569.72 L212.78,569.38 L214.21,569.02 L215.64,568.64 L217.07,568.25 L218.5,567.85 L219.93,567.43 L221.36,566.99 L222.79,566.53 L224.22,566.06 L225.65,565.56 L227.08,565.04 L228.51,564.51 L229.94,563.95 L231.37,563.37 L232.8,562.76 L234.23,562.13 L235.66,561.48 L237.09,560.8 L238.52,560.09 L239.95,559.35 L241.38,558.58 L242.81,557.78 L244.24,556.95 L245.67,556.08 L247.1,555.18 L248.53,554.24 L249.96,553.26 L251.39,552.24 L252.82,551.18 L254.25,550.08 L255.68,548.93 L257.11,547.74 L258.54,546.5 L259.97,545.21 L261.4,543.86 L262.83,542.46 L264.26,541 L265.69,539.48 L267.12,537.9 L268.55,536.26 L269.98,534.55 L271.41,532.77 L272.84,530.91 L274.27,528.98 L275.7,526.97" fill="none" stroke="#3a559e" stroke-width="1.5" stroke-linejoin="round" stroke-linecap="round" />
<rect x="75.5" y="406.5" width="229.0" height="171.5" fill="none" stroke="#000" stroke-width="1.5"/>
<line x1="72.5" y1="578" x2="75.5" y2="578" stroke="#000" stroke-width="1.5" />
<text x="70.9" y="582" font-size="14" text-anchor="end" fill="#000" >0.0</text>
<line x1="72.5" y1="549.33" x2="75.5" y2="549.33" stroke="#000" stroke-width="1.5" />
<text x="70.9" y="553.33" font-size="14" text-anchor="end" fill="#000" >0.2</text>
<line x1="72.5" y1="520.67" x2="75.5" y2="520.67" stroke="#000" stroke-width="1.5" />
<text x="70.9" y="524.67" font-size="14" text-anchor="end" fill="#000" >0.4</text>
<line x1="72.5" y1="492" x2="75.5" y2="492" stroke="#000" stroke-width="1.5" />
<text x="70.9" y="496" font-size="14" text-anchor="end" fill="#000" >0.6</text>
<line x1="72.5" y1="463.34" x2="75.5" y2="463.34" stroke="#000" stroke-width="1.5" />
<text x="70.9" y="467.34" font-size="14" text-anchor="end" fill="#000" >0.8</text>
<line x1="72.5" y1="434.67" x2="75.5" y2="434.67" stroke="#000" stroke-width="1.5" />
<text x="70.9" y="438.67" font-size="14" text-anchor="end" fill="#000" >1.0</text>
<line x1="72.5" y1="406" x2="75.5" y2="406" stroke="#000" stroke-width="1.5" />
<text x="70.9" y="410" font-size="14" text-anchor="end" fill="#000" >1.2</text>
<line x1="75.5" y1="578" x2="75.5" y2="581" stroke="#000" stroke-width="1.5" />
<text x="75.5" y="593.2" font-size="14" text-anchor="middle" fill="#000" >0</text>
<line x1="104.1" y1="578" x2="104.1" y2="581" stroke="#000" stroke-width="1.5" />
<text x="104.1" y="593.2" font-size="14" text-anchor="middle" fill="#000" >10</text>
<line x1="132.7" y1="578" x2="132.7" y2="581" stroke="#000" stroke-width="1.5" />
<text x="132.7" y="593.2" font-size="14" text-anchor="middle" fill="#000" >20</text>
<line x1="161.3" y1="578" x2="161.3" y2="581" stroke="#000" stroke-width="1.5" />
<text x="161.3" y="593.2" font-size="14" text-anchor="middle" fill="#000" >30</text>
<line x1="189.9" y1="578" x2="189.9" y2="581" stroke="#000" stroke-width="1.5" />
<text x="189.9" y="593.2" font-size="14" text-anchor="middle" fill="#000" >40</text>
<line x1="218.5" y1="578" x2="218.5" y2="581" stroke="#000" stroke-width="1.5" />
<text x="218.5" y="593.2" font-size="14" text-anchor="middle" fill="#000" >50</text>
<line x1="247.1" y1="578" x2="247.1" y2="581" stroke="#000" stroke-width="1.5" />
<text x="247.1" y="593.2" font-size="14" text-anchor="middle" fill="#000" >60</text>
<line x1="275.7" y1="578" x2="275.7" y2="581" stroke="#000" stroke-width="1.5" />
<text x="275.7" y="593.2" font-size="14" text-anchor="middle" fill="#000" >70</text>
<line x1="304.3" y1="578" x2="304.3" y2="581" stroke="#000" stroke-width="1.5" />
<text x="304.3" y="593.2" font-size="14" text-anchor="middle" fill="#000" >80</text>
<text x="190" y="611.7" font-size="16.5" text-anchor="middle" fill="#000" >Compression strain (%)</text>
<text transform="translate(41.3,492.2) rotate(-90)" font-size="16.2" text-anchor="middle">Compression stress (MPa)</text>
<line x1="86.5" y1="423" x2="117.5" y2="423" stroke="#e05a48" stroke-width="1.5" />
<text x="121" y="427.4" font-size="14" text-anchor="start" fill="#000" >PAHT</text>
<line x1="86.5" y1="439.3" x2="117.5" y2="439.3" stroke="#f2aa62" stroke-width="1.5" />
<text x="121" y="443.7" font-size="14" text-anchor="start" fill="#000" >PAH</text>
<line x1="86.5" y1="456" x2="117.5" y2="456" stroke="#a6d585" stroke-width="1.5" />
<text x="121" y="460.4" font-size="14" text-anchor="start" fill="#000" >PAT</text>
<line x1="86.5" y1="472.3" x2="117.5" y2="472.3" stroke="#4ec8c6" stroke-width="1.5" />
<text x="121" y="476.7" font-size="14" text-anchor="start" fill="#000" >PA</text>
<line x1="86.5" y1="488.5" x2="117.5" y2="488.5" stroke="#3a559e" stroke-width="1.5" />
<text x="121" y="492.9" font-size="14" text-anchor="start" fill="#000" >P</text>
<rect x="79.8" y="324.93" width="16.3" height="34.57" fill="#41589c" />
<line x1="87.95" y1="323.44" x2="87.95" y2="326.42" stroke="#26397a" stroke-width="1" />
<line x1="84.45" y1="323.44" x2="91.45" y2="323.44" stroke="#26397a" stroke-width="1" />
<line x1="84.45" y1="326.42" x2="91.45" y2="326.42" stroke="#26397a" stroke-width="1" />
<circle cx="89.36" cy="325.27" r="1.05" fill="#26397a"/>
<circle cx="86.68" cy="327.01" r="1.05" fill="#26397a"/>
<circle cx="85.34" cy="326.4" r="1.05" fill="#26397a"/>
<circle cx="86.96" cy="326.23" r="1.05" fill="#26397a"/>
<circle cx="88.2" cy="325.36" r="1.05" fill="#26397a"/>
<circle cx="89.14" cy="325.26" r="1.05" fill="#26397a"/>
<circle cx="90.37" cy="326.16" r="1.05" fill="#26397a"/>
<rect x="108.55" y="306.45" width="16.3" height="53.05" fill="#5ccec6" />
<line x1="116.7" y1="301.68" x2="116.7" y2="311.21" stroke="#1f9e96" stroke-width="1" />
<line x1="113.2" y1="301.68" x2="120.2" y2="301.68" stroke="#1f9e96" stroke-width="1" />
<line x1="113.2" y1="311.21" x2="120.2" y2="311.21" stroke="#1f9e96" stroke-width="1" />
<circle cx="117.79" cy="312.76" r="1.05" fill="#1f9e96"/>
<circle cx="117.08" cy="307.55" r="1.05" fill="#1f9e96"/>
<circle cx="114.77" cy="311.25" r="1.05" fill="#1f9e96"/>
<circle cx="119.7" cy="302.43" r="1.05" fill="#1f9e96"/>
<circle cx="117.93" cy="308.94" r="1.05" fill="#1f9e96"/>
<circle cx="119.23" cy="301.42" r="1.05" fill="#1f9e96"/>
<circle cx="113.75" cy="311.99" r="1.05" fill="#1f9e96"/>
<rect x="137.3" y="300.49" width="16.3" height="59.01" fill="#a8d886" />
<line x1="145.45" y1="297.5" x2="145.45" y2="303.47" stroke="#5cae2c" stroke-width="1" />
<line x1="141.95" y1="297.5" x2="148.95" y2="297.5" stroke="#5cae2c" stroke-width="1" />
<line x1="141.95" y1="303.47" x2="148.95" y2="303.47" stroke="#5cae2c" stroke-width="1" />
<circle cx="147.87" cy="303.24" r="1.05" fill="#5cae2c"/>
<circle cx="144.95" cy="303.84" r="1.05" fill="#5cae2c"/>
<circle cx="145.66" cy="296.66" r="1.05" fill="#5cae2c"/>
<circle cx="144.27" cy="298.88" r="1.05" fill="#5cae2c"/>
<circle cx="147.59" cy="298.93" r="1.05" fill="#5cae2c"/>
<circle cx="147.05" cy="304.51" r="1.05" fill="#5cae2c"/>
<circle cx="147.04" cy="296.41" r="1.05" fill="#5cae2c"/>
<rect x="166.05" y="292.74" width="16.3" height="66.76" fill="#f4b266" />
<line x1="174.2" y1="290.35" x2="174.2" y2="295.12" stroke="#de8a12" stroke-width="1" />
<line x1="170.7" y1="290.35" x2="177.7" y2="290.35" stroke="#de8a12" stroke-width="1" />
<line x1="170.7" y1="295.12" x2="177.7" y2="295.12" stroke="#de8a12" stroke-width="1" />
<circle cx="176.05" cy="294.2" r="1.05" fill="#de8a12"/>
<circle cx="173.87" cy="295.38" r="1.05" fill="#de8a12"/>
<circle cx="172.88" cy="290.01" r="1.05" fill="#de8a12"/>
<circle cx="171.83" cy="294.15" r="1.05" fill="#de8a12"/>
<circle cx="175.34" cy="295.94" r="1.05" fill="#de8a12"/>
<circle cx="172.7" cy="294.66" r="1.05" fill="#de8a12"/>
<circle cx="171.34" cy="292.79" r="1.05" fill="#de8a12"/>
<rect x="194.8" y="289.75" width="16.3" height="69.75" fill="#e85c42" />
<line x1="202.95" y1="285.58" x2="202.95" y2="293.93" stroke="#b5301c" stroke-width="1" />
<line x1="199.45" y1="285.58" x2="206.45" y2="285.58" stroke="#b5301c" stroke-width="1" />
<line x1="199.45" y1="293.93" x2="206.45" y2="293.93" stroke="#b5301c" stroke-width="1" />
<circle cx="200.69" cy="288.89" r="1.05" fill="#b5301c"/>
<circle cx="204.23" cy="288.71" r="1.05" fill="#b5301c"/>
<circle cx="202.4" cy="294.4" r="1.05" fill="#b5301c"/>
<circle cx="202.4" cy="287.48" r="1.05" fill="#b5301c"/>
<circle cx="203.18" cy="295.01" r="1.05" fill="#b5301c"/>
<circle cx="203.05" cy="287.84" r="1.05" fill="#b5301c"/>
<circle cx="203.5" cy="284.56" r="1.05" fill="#b5301c"/>
<path d="M73.2,252.2 H217.5 V359.5 H73.2 Z" fill="none" stroke="#3c3c3c" stroke-width="1.3"/>
<line x1="70.7" y1="359.5" x2="73.2" y2="359.5" stroke="#3c3c3c" stroke-width="1" />
<text x="70.2" y="362.6" font-size="8.6" text-anchor="end" fill="#1e1e1e" >0</text>
<line x1="70.7" y1="341.62" x2="73.2" y2="341.62" stroke="#3c3c3c" stroke-width="1" />
<text x="70.2" y="344.72" font-size="8.6" text-anchor="end" fill="#1e1e1e" >30</text>
<line x1="70.7" y1="323.73" x2="73.2" y2="323.73" stroke="#3c3c3c" stroke-width="1" />
<text x="70.2" y="326.83" font-size="8.6" text-anchor="end" fill="#1e1e1e" >60</text>
<line x1="70.7" y1="305.85" x2="73.2" y2="305.85" stroke="#3c3c3c" stroke-width="1" />
<text x="70.2" y="308.95" font-size="8.6" text-anchor="end" fill="#1e1e1e" >90</text>
<line x1="70.7" y1="287.97" x2="73.2" y2="287.97" stroke="#3c3c3c" stroke-width="1" />
<text x="70.2" y="291.07" font-size="8.6" text-anchor="end" fill="#1e1e1e" >120</text>
<line x1="70.7" y1="270.08" x2="73.2" y2="270.08" stroke="#3c3c3c" stroke-width="1" />
<text x="70.2" y="273.18" font-size="8.6" text-anchor="end" fill="#1e1e1e" >150</text>
<line x1="70.7" y1="252.2" x2="73.2" y2="252.2" stroke="#3c3c3c" stroke-width="1" />
<text x="70.2" y="255.3" font-size="8.6" text-anchor="end" fill="#1e1e1e" >180</text>
<line x1="87.95" y1="359.5" x2="87.95" y2="362" stroke="#3c3c3c" stroke-width="1" />
<text x="87.95" y="368.7" font-size="8.6" text-anchor="middle" fill="#1e1e1e" >P</text>
<line x1="116.7" y1="359.5" x2="116.7" y2="362" stroke="#3c3c3c" stroke-width="1" />
<text x="116.7" y="368.7" font-size="8.6" text-anchor="middle" fill="#1e1e1e" >PA</text>
<line x1="145.45" y1="359.5" x2="145.45" y2="362" stroke="#3c3c3c" stroke-width="1" />
<text x="145.45" y="368.7" font-size="8.6" text-anchor="middle" fill="#1e1e1e" >PAT</text>
<line x1="174.2" y1="359.5" x2="174.2" y2="362" stroke="#3c3c3c" stroke-width="1" />
<text x="174.2" y="368.7" font-size="8.6" text-anchor="middle" fill="#1e1e1e" >PAH</text>
<line x1="202.95" y1="359.5" x2="202.95" y2="362" stroke="#3c3c3c" stroke-width="1" />
<text x="202.95" y="368.7" font-size="8.6" text-anchor="middle" fill="#1e1e1e" >PAHT</text>
<text transform="translate(51.9,305.85) rotate(-90)" font-size="10.3" text-anchor="middle" fill="#1e1e1e">Tensile modulus (kPa)</text>
<path d="M87.95,264.6 V258.8 H159.4 V264.4" fill="none" stroke="#3c3c3c" stroke-width="1"/>
<path d="M116,264.4 H202.6" fill="none" stroke="#3c3c3c" stroke-width="1"/>
<path d="M116,277.8 H144.7 M130.3,277.8 V271.2 H187.7 V277.8 M174.1,277.8 H201.7" fill="none" stroke="#3c3c3c" stroke-width="1"/>
<path d="M116.7,290 V284.1 H145.45 V290" fill="none" stroke="#3c3c3c" stroke-width="1"/>
<text x="124.55" y="261.77" font-size="9.5" text-anchor="middle" fill="#222" letter-spacing="0.3">***</text>
<text x="159.55" y="273.57" font-size="9.5" text-anchor="middle" fill="#222" letter-spacing="0.3">***</text>
<text x="130.85" y="287.07" font-size="9.5" text-anchor="middle" fill="#222" letter-spacing="0.3">**</text>
<rect x="304.2" y="318.59" width="16.3" height="40.91" fill="#41589c" />
<line x1="312.35" y1="313.9" x2="312.35" y2="323.29" stroke="#26397a" stroke-width="1" />
<line x1="308.85" y1="313.9" x2="315.85" y2="313.9" stroke="#26397a" stroke-width="1" />
<line x1="308.85" y1="323.29" x2="315.85" y2="323.29" stroke="#26397a" stroke-width="1" />
<circle cx="309.32" cy="319.43" r="1.05" fill="#26397a"/>
<circle cx="311.94" cy="317.94" r="1.05" fill="#26397a"/>
<circle cx="311.26" cy="319.64" r="1.05" fill="#26397a"/>
<circle cx="313.11" cy="322.47" r="1.05" fill="#26397a"/>
<circle cx="310.86" cy="321.23" r="1.05" fill="#26397a"/>
<circle cx="312.54" cy="317" r="1.05" fill="#26397a"/>
<circle cx="312.44" cy="323.4" r="1.05" fill="#26397a"/>
<rect x="332.95" y="298.88" width="16.3" height="60.62" fill="#5ccec6" />
<line x1="341.1" y1="295.52" x2="341.1" y2="302.23" stroke="#1f9e96" stroke-width="1" />
<line x1="337.6" y1="295.52" x2="344.6" y2="295.52" stroke="#1f9e96" stroke-width="1" />
<line x1="337.6" y1="302.23" x2="344.6" y2="302.23" stroke="#1f9e96" stroke-width="1" />
<circle cx="342.93" cy="301.84" r="1.05" fill="#1f9e96"/>
<circle cx="341.06" cy="295.55" r="1.05" fill="#1f9e96"/>
<circle cx="338.41" cy="295.62" r="1.05" fill="#1f9e96"/>
<circle cx="338.32" cy="298.83" r="1.05" fill="#1f9e96"/>
<circle cx="338.52" cy="299.55" r="1.05" fill="#1f9e96"/>
<circle cx="341.72" cy="302.38" r="1.05" fill="#1f9e96"/>
<circle cx="338.58" cy="301.45" r="1.05" fill="#1f9e96"/>
<rect x="361.7" y="299.14" width="16.3" height="60.36" fill="#a8d886" />
<line x1="369.85" y1="294.45" x2="369.85" y2="303.84" stroke="#5cae2c" stroke-width="1" />
<line x1="366.35" y1="294.45" x2="373.35" y2="294.45" stroke="#5cae2c" stroke-width="1" />
<line x1="366.35" y1="303.84" x2="373.35" y2="303.84" stroke="#5cae2c" stroke-width="1" />
<circle cx="368.89" cy="302.82" r="1.05" fill="#5cae2c"/>
<circle cx="367.94" cy="299.57" r="1.05" fill="#5cae2c"/>
<circle cx="369.74" cy="297.3" r="1.05" fill="#5cae2c"/>
<circle cx="369.13" cy="299.07" r="1.05" fill="#5cae2c"/>
<circle cx="370.36" cy="295.28" r="1.05" fill="#5cae2c"/>
<circle cx="371.13" cy="303.58" r="1.05" fill="#5cae2c"/>
<circle cx="369.85" cy="293.04" r="1.05" fill="#5cae2c"/>
<rect x="390.45" y="290.02" width="16.3" height="69.48" fill="#f4b266" />
<line x1="398.6" y1="285.33" x2="398.6" y2="294.72" stroke="#de8a12" stroke-width="1" />
<line x1="395.1" y1="285.33" x2="402.1" y2="285.33" stroke="#de8a12" stroke-width="1" />
<line x1="395.1" y1="294.72" x2="402.1" y2="294.72" stroke="#de8a12" stroke-width="1" />
<circle cx="397.59" cy="284.9" r="1.05" fill="#de8a12"/>
<circle cx="398.14" cy="289.14" r="1.05" fill="#de8a12"/>
<circle cx="400.37" cy="290.85" r="1.05" fill="#de8a12"/>
<circle cx="401.5" cy="289.56" r="1.05" fill="#de8a12"/>
<circle cx="395.93" cy="289.44" r="1.05" fill="#de8a12"/>
<circle cx="400.85" cy="291.78" r="1.05" fill="#de8a12"/>
<circle cx="395.57" cy="291.26" r="1.05" fill="#de8a12"/>
<rect x="419.2" y="299.14" width="16.3" height="60.36" fill="#e85c42" />
<line x1="427.35" y1="295.39" x2="427.35" y2="302.9" stroke="#b5301c" stroke-width="1" />
<line x1="423.85" y1="295.39" x2="430.85" y2="295.39" stroke="#b5301c" stroke-width="1" />
<line x1="423.85" y1="302.9" x2="430.85" y2="302.9" stroke="#b5301c" stroke-width="1" />
<circle cx="424.58" cy="301.8" r="1.05" fill="#b5301c"/>
<circle cx="430.36" cy="293.95" r="1.05" fill="#b5301c"/>
<circle cx="428" cy="295.99" r="1.05" fill="#b5301c"/>
<circle cx="425.23" cy="296.36" r="1.05" fill="#b5301c"/>
<circle cx="427.5" cy="301.32" r="1.05" fill="#b5301c"/>
<circle cx="424.44" cy="300.65" r="1.05" fill="#b5301c"/>
<circle cx="426.97" cy="294.06" r="1.05" fill="#b5301c"/>
<path d="M297.6,252.2 H441.9 V359.5 H297.6 Z" fill="none" stroke="#3c3c3c" stroke-width="1.3"/>
<line x1="295.1" y1="359.5" x2="297.6" y2="359.5" stroke="#3c3c3c" stroke-width="1" />
<text x="294.6" y="362.6" font-size="8.6" text-anchor="end" fill="#1e1e1e" >0</text>
<line x1="295.1" y1="332.68" x2="297.6" y2="332.68" stroke="#3c3c3c" stroke-width="1" />
<text x="294.6" y="335.78" font-size="8.6" text-anchor="end" fill="#1e1e1e" >200</text>
<line x1="295.1" y1="305.85" x2="297.6" y2="305.85" stroke="#3c3c3c" stroke-width="1" />
<text x="294.6" y="308.95" font-size="8.6" text-anchor="end" fill="#1e1e1e" >400</text>
<line x1="295.1" y1="279.02" x2="297.6" y2="279.02" stroke="#3c3c3c" stroke-width="1" />
<text x="294.6" y="282.12" font-size="8.6" text-anchor="end" fill="#1e1e1e" >600</text>
<line x1="295.1" y1="252.2" x2="297.6" y2="252.2" stroke="#3c3c3c" stroke-width="1" />
<text x="294.6" y="255.3" font-size="8.6" text-anchor="end" fill="#1e1e1e" >800</text>
<line x1="312.35" y1="359.5" x2="312.35" y2="362" stroke="#3c3c3c" stroke-width="1" />
<text x="312.35" y="368.7" font-size="8.6" text-anchor="middle" fill="#1e1e1e" >P</text>
<line x1="341.1" y1="359.5" x2="341.1" y2="362" stroke="#3c3c3c" stroke-width="1" />
<text x="341.1" y="368.7" font-size="8.6" text-anchor="middle" fill="#1e1e1e" >PA</text>
<line x1="369.85" y1="359.5" x2="369.85" y2="362" stroke="#3c3c3c" stroke-width="1" />
<text x="369.85" y="368.7" font-size="8.6" text-anchor="middle" fill="#1e1e1e" >PAT</text>
<line x1="398.6" y1="359.5" x2="398.6" y2="362" stroke="#3c3c3c" stroke-width="1" />
<text x="398.6" y="368.7" font-size="8.6" text-anchor="middle" fill="#1e1e1e" >PAH</text>
<line x1="427.35" y1="359.5" x2="427.35" y2="362" stroke="#3c3c3c" stroke-width="1" />
<text x="427.35" y="368.7" font-size="8.6" text-anchor="middle" fill="#1e1e1e" >PAHT</text>
<text transform="translate(277.8,305.85) rotate(-90)" font-size="10.3" text-anchor="middle" fill="#1e1e1e">Elongation at break (%)</text>
<path d="M312.35,265 V259.7 H384.7 V264.6" fill="none" stroke="#3c3c3c" stroke-width="1"/>
<path d="M341,264.6 H426.8" fill="none" stroke="#3c3c3c" stroke-width="1"/>
<path d="M342.1,275.9 H370.1 M355.1,275.9 V270.7 H398 V280" fill="none" stroke="#3c3c3c" stroke-width="1"/>
<path d="M398,275.4 H427.4 V280.3" fill="none" stroke="#3c3c3c" stroke-width="1"/>
<text x="349.25" y="262.17" font-size="9.5" text-anchor="middle" fill="#222" letter-spacing="0.3">***</text>
<text x="377.35" y="273.47" font-size="9.5" text-anchor="middle" fill="#222" letter-spacing="0.3">***</text>
<text x="413.95" y="278.37" font-size="9.5" text-anchor="middle" fill="#222" letter-spacing="0.3">***</text>
<rect x="529.7" y="336.85" width="16.3" height="22.65" fill="#41589c" />
<line x1="537.85" y1="332.08" x2="537.85" y2="341.62" stroke="#26397a" stroke-width="1" />
<line x1="534.35" y1="332.08" x2="541.35" y2="332.08" stroke="#26397a" stroke-width="1" />
<line x1="534.35" y1="341.62" x2="541.35" y2="341.62" stroke="#26397a" stroke-width="1" />
<circle cx="539.18" cy="336.17" r="1.05" fill="#26397a"/>
<circle cx="537.92" cy="339.64" r="1.05" fill="#26397a"/>
<circle cx="540.39" cy="331.6" r="1.05" fill="#26397a"/>
<circle cx="535.98" cy="341.85" r="1.05" fill="#26397a"/>
<circle cx="537.47" cy="342.84" r="1.05" fill="#26397a"/>
<circle cx="537.57" cy="343.13" r="1.05" fill="#26397a"/>
<circle cx="536.43" cy="334.86" r="1.05" fill="#26397a"/>
<rect x="558.45" y="310.62" width="16.3" height="48.88" fill="#5ccec6" />
<line x1="566.6" y1="303.47" x2="566.6" y2="317.77" stroke="#1f9e96" stroke-width="1" />
<line x1="563.1" y1="303.47" x2="570.1" y2="303.47" stroke="#1f9e96" stroke-width="1" />
<line x1="563.1" y1="317.77" x2="570.1" y2="317.77" stroke="#1f9e96" stroke-width="1" />
<circle cx="567.18" cy="307.09" r="1.05" fill="#1f9e96"/>
<circle cx="566.98" cy="320.15" r="1.05" fill="#1f9e96"/>
<circle cx="566.06" cy="315.44" r="1.05" fill="#1f9e96"/>
<circle cx="567.84" cy="314.95" r="1.05" fill="#1f9e96"/>
<circle cx="564.4" cy="311.81" r="1.05" fill="#1f9e96"/>
<circle cx="568.39" cy="309.72" r="1.05" fill="#1f9e96"/>
<circle cx="564.82" cy="314.5" r="1.05" fill="#1f9e96"/>
<rect x="587.2" y="306.45" width="16.3" height="53.05" fill="#a8d886" />
<line x1="595.35" y1="298.7" x2="595.35" y2="314.2" stroke="#5cae2c" stroke-width="1" />
<line x1="591.85" y1="298.7" x2="598.85" y2="298.7" stroke="#5cae2c" stroke-width="1" />
<line x1="591.85" y1="314.2" x2="598.85" y2="314.2" stroke="#5cae2c" stroke-width="1" />
<circle cx="598.14" cy="308.88" r="1.05" fill="#5cae2c"/>
<circle cx="596.45" cy="296.12" r="1.05" fill="#5cae2c"/>
<circle cx="597.56" cy="297.71" r="1.05" fill="#5cae2c"/>
<circle cx="592.74" cy="309.09" r="1.05" fill="#5cae2c"/>
<circle cx="595.72" cy="303.12" r="1.05" fill="#5cae2c"/>
<circle cx="593.59" cy="309.45" r="1.05" fill="#5cae2c"/>
<circle cx="595.15" cy="308.47" r="1.05" fill="#5cae2c"/>
<rect x="615.95" y="297.5" width="16.3" height="62" fill="#f4b266" />
<line x1="624.1" y1="291.54" x2="624.1" y2="303.47" stroke="#de8a12" stroke-width="1" />
<line x1="620.6" y1="291.54" x2="627.6" y2="291.54" stroke="#de8a12" stroke-width="1" />
<line x1="620.6" y1="303.47" x2="627.6" y2="303.47" stroke="#de8a12" stroke-width="1" />
<circle cx="622.77" cy="301.36" r="1.05" fill="#de8a12"/>
<circle cx="626.41" cy="298.21" r="1.05" fill="#de8a12"/>
<circle cx="622.71" cy="296.06" r="1.05" fill="#de8a12"/>
<circle cx="623.81" cy="301.21" r="1.05" fill="#de8a12"/>
<circle cx="622.19" cy="302.42" r="1.05" fill="#de8a12"/>
<circle cx="621.46" cy="297.27" r="1.05" fill="#de8a12"/>
<circle cx="623.22" cy="297.78" r="1.05" fill="#de8a12"/>
<rect x="644.7" y="306.45" width="16.3" height="53.05" fill="#e85c42" />
<line x1="652.85" y1="300.49" x2="652.85" y2="312.41" stroke="#b5301c" stroke-width="1" />
<line x1="649.35" y1="300.49" x2="656.35" y2="300.49" stroke="#b5301c" stroke-width="1" />
<line x1="649.35" y1="312.41" x2="656.35" y2="312.41" stroke="#b5301c" stroke-width="1" />
<circle cx="654.43" cy="302.98" r="1.05" fill="#b5301c"/>
<circle cx="654.06" cy="303.26" r="1.05" fill="#b5301c"/>
<circle cx="653.93" cy="308.56" r="1.05" fill="#b5301c"/>
<circle cx="653.32" cy="309.12" r="1.05" fill="#b5301c"/>
<circle cx="652.5" cy="309.35" r="1.05" fill="#b5301c"/>
<circle cx="651.2" cy="313.76" r="1.05" fill="#b5301c"/>
<circle cx="651.13" cy="298.57" r="1.05" fill="#b5301c"/>
<path d="M523.1,252.2 H667.4 V359.5 H523.1 Z" fill="none" stroke="#3c3c3c" stroke-width="1.3"/>
<line x1="520.6" y1="359.5" x2="523.1" y2="359.5" stroke="#3c3c3c" stroke-width="1" />
<text x="520.1" y="362.6" font-size="8.6" text-anchor="end" fill="#1e1e1e" >0.0</text>
<line x1="520.6" y1="341.62" x2="523.1" y2="341.62" stroke="#3c3c3c" stroke-width="1" />
<text x="520.1" y="344.72" font-size="8.6" text-anchor="end" fill="#1e1e1e" >0.3</text>
<line x1="520.6" y1="323.73" x2="523.1" y2="323.73" stroke="#3c3c3c" stroke-width="1" />
<text x="520.1" y="326.83" font-size="8.6" text-anchor="end" fill="#1e1e1e" >0.6</text>
<line x1="520.6" y1="305.85" x2="523.1" y2="305.85" stroke="#3c3c3c" stroke-width="1" />
<text x="520.1" y="308.95" font-size="8.6" text-anchor="end" fill="#1e1e1e" >0.9</text>
<line x1="520.6" y1="287.97" x2="523.1" y2="287.97" stroke="#3c3c3c" stroke-width="1" />
<text x="520.1" y="291.07" font-size="8.6" text-anchor="end" fill="#1e1e1e" >1.2</text>
<line x1="520.6" y1="270.08" x2="523.1" y2="270.08" stroke="#3c3c3c" stroke-width="1" />
<text x="520.1" y="273.18" font-size="8.6" text-anchor="end" fill="#1e1e1e" >1.5</text>
<line x1="520.6" y1="252.2" x2="523.1" y2="252.2" stroke="#3c3c3c" stroke-width="1" />
<text x="520.1" y="255.3" font-size="8.6" text-anchor="end" fill="#1e1e1e" >1.8</text>
<line x1="537.85" y1="359.5" x2="537.85" y2="362" stroke="#3c3c3c" stroke-width="1" />
<text x="537.85" y="368.7" font-size="8.6" text-anchor="middle" fill="#1e1e1e" >P</text>
<line x1="566.6" y1="359.5" x2="566.6" y2="362" stroke="#3c3c3c" stroke-width="1" />
<text x="566.6" y="368.7" font-size="8.6" text-anchor="middle" fill="#1e1e1e" >PA</text>
<line x1="595.35" y1="359.5" x2="595.35" y2="362" stroke="#3c3c3c" stroke-width="1" />
<text x="595.35" y="368.7" font-size="8.6" text-anchor="middle" fill="#1e1e1e" >PAT</text>
<line x1="624.1" y1="359.5" x2="624.1" y2="362" stroke="#3c3c3c" stroke-width="1" />
<text x="624.1" y="368.7" font-size="8.6" text-anchor="middle" fill="#1e1e1e" >PAH</text>
<line x1="652.85" y1="359.5" x2="652.85" y2="362" stroke="#3c3c3c" stroke-width="1" />
<text x="652.85" y="368.7" font-size="8.6" text-anchor="middle" fill="#1e1e1e" >PAHT</text>
<text transform="translate(502.6,305.85) rotate(-90)" font-size="10.3" text-anchor="middle" fill="#1e1e1e">Breaking strength (MPa)</text>
<path d="M536.7,264.3 V258.6 H609.3 V264.3" fill="none" stroke="#3c3c3c" stroke-width="1"/>
<path d="M567.9,264.3 H651" fill="none" stroke="#3c3c3c" stroke-width="1"/>
<path d="M567.9,275.8 V270.5 H623.7 V289.2" fill="none" stroke="#3c3c3c" stroke-width="1"/>
<path d="M595,284 V277.7 H623.7" fill="none" stroke="#3c3c3c" stroke-width="1"/>
<path d="M623.7,284 H653 V289.2" fill="none" stroke="#3c3c3c" stroke-width="1"/>
<text x="572.55" y="261.57" font-size="9.5" text-anchor="middle" fill="#222" letter-spacing="0.3">***</text>
<text x="595.55" y="273.37" font-size="9.5" text-anchor="middle" fill="#222" letter-spacing="0.3">***</text>
<text x="609.15" y="279.77" font-size="9.5" text-anchor="middle" fill="#222" letter-spacing="0.3">*</text>
<text x="638.75" y="286.07" font-size="9.5" text-anchor="middle" fill="#222" letter-spacing="0.3">*</text>
<rect x="79.8" y="708.46" width="16.3" height="35.54" fill="#41589c" />
<line x1="87.95" y1="703.07" x2="87.95" y2="713.84" stroke="#26397a" stroke-width="1" />
<line x1="84.45" y1="703.07" x2="91.45" y2="703.07" stroke="#26397a" stroke-width="1" />
<line x1="84.45" y1="713.84" x2="91.45" y2="713.84" stroke="#26397a" stroke-width="1" />
<circle cx="88.25" cy="701.42" r="1.05" fill="#26397a"/>
<circle cx="89.32" cy="701.33" r="1.05" fill="#26397a"/>
<circle cx="86.13" cy="705.48" r="1.05" fill="#26397a"/>
<circle cx="84.79" cy="701.28" r="1.05" fill="#26397a"/>
<circle cx="87.53" cy="712.18" r="1.05" fill="#26397a"/>
<circle cx="86.02" cy="704.25" r="1.05" fill="#26397a"/>
<circle cx="91.04" cy="702.99" r="1.05" fill="#26397a"/>
<rect x="108.55" y="671.3" width="16.3" height="72.7" fill="#5ccec6" />
<line x1="116.7" y1="660.53" x2="116.7" y2="682.07" stroke="#1f9e96" stroke-width="1" />
<line x1="113.2" y1="660.53" x2="120.2" y2="660.53" stroke="#1f9e96" stroke-width="1" />
<line x1="113.2" y1="682.07" x2="120.2" y2="682.07" stroke="#1f9e96" stroke-width="1" />
<circle cx="117.32" cy="681.44" r="1.05" fill="#1f9e96"/>
<circle cx="115.97" cy="686.11" r="1.05" fill="#1f9e96"/>
<circle cx="119.62" cy="685.05" r="1.05" fill="#1f9e96"/>
<circle cx="119.57" cy="673.23" r="1.05" fill="#1f9e96"/>
<circle cx="119.04" cy="662.67" r="1.05" fill="#1f9e96"/>
<circle cx="113.98" cy="681.16" r="1.05" fill="#1f9e96"/>
<circle cx="114.58" cy="668.26" r="1.05" fill="#1f9e96"/>
<rect x="137.3" y="674" width="16.3" height="70" fill="#a8d886" />
<line x1="145.45" y1="666.99" x2="145.45" y2="681" stroke="#5cae2c" stroke-width="1" />
<line x1="141.95" y1="666.99" x2="148.95" y2="666.99" stroke="#5cae2c" stroke-width="1" />
<line x1="141.95" y1="681" x2="148.95" y2="681" stroke="#5cae2c" stroke-width="1" />
<circle cx="144.86" cy="669.42" r="1.05" fill="#5cae2c"/>
<circle cx="148.25" cy="673.45" r="1.05" fill="#5cae2c"/>
<circle cx="142.94" cy="673.57" r="1.05" fill="#5cae2c"/>
<circle cx="145.74" cy="680.69" r="1.05" fill="#5cae2c"/>
<circle cx="146.33" cy="673.52" r="1.05" fill="#5cae2c"/>
<circle cx="146.41" cy="675.93" r="1.05" fill="#5cae2c"/>
<circle cx="146.24" cy="676.02" r="1.05" fill="#5cae2c"/>
<rect x="166.05" y="675.07" width="16.3" height="68.93" fill="#f4b266" />
<line x1="174.2" y1="671.84" x2="174.2" y2="678.3" stroke="#de8a12" stroke-width="1" />
<line x1="170.7" y1="671.84" x2="177.7" y2="671.84" stroke="#de8a12" stroke-width="1" />
<line x1="170.7" y1="678.3" x2="177.7" y2="678.3" stroke="#de8a12" stroke-width="1" />
<circle cx="172.15" cy="672.65" r="1.05" fill="#de8a12"/>
<circle cx="174.22" cy="676.2" r="1.05" fill="#de8a12"/>
<circle cx="172.62" cy="673.38" r="1.05" fill="#de8a12"/>
<circle cx="175" cy="674.58" r="1.05" fill="#de8a12"/>
<circle cx="173.32" cy="671.49" r="1.05" fill="#de8a12"/>
<circle cx="172.23" cy="673.83" r="1.05" fill="#de8a12"/>
<circle cx="172.17" cy="675.09" r="1.05" fill="#de8a12"/>
<rect x="194.8" y="668.07" width="16.3" height="75.93" fill="#e85c42" />
<line x1="202.95" y1="659.46" x2="202.95" y2="676.69" stroke="#b5301c" stroke-width="1" />
<line x1="199.45" y1="659.46" x2="206.45" y2="659.46" stroke="#b5301c" stroke-width="1" />
<line x1="199.45" y1="676.69" x2="206.45" y2="676.69" stroke="#b5301c" stroke-width="1" />
<circle cx="202.51" cy="657.98" r="1.05" fill="#b5301c"/>
<circle cx="202.42" cy="660.11" r="1.05" fill="#b5301c"/>
<circle cx="202.34" cy="658.31" r="1.05" fill="#b5301c"/>
<circle cx="203.41" cy="672.14" r="1.05" fill="#b5301c"/>
<circle cx="205.26" cy="659.74" r="1.05" fill="#b5301c"/>
<circle cx="200.29" cy="665.76" r="1.05" fill="#b5301c"/>
<circle cx="201.32" cy="665.72" r="1.05" fill="#b5301c"/>
<path d="M73.2,636.3 H217.5 V744 H73.2 Z" fill="none" stroke="#3c3c3c" stroke-width="1.3"/>
<line x1="70.7" y1="744" x2="73.2" y2="744" stroke="#3c3c3c" stroke-width="1" />
<text x="70.2" y="747.1" font-size="8.6" text-anchor="end" fill="#1e1e1e" >0</text>
<line x1="70.7" y1="722.46" x2="73.2" y2="722.46" stroke="#3c3c3c" stroke-width="1" />
<text x="70.2" y="725.56" font-size="8.6" text-anchor="end" fill="#1e1e1e" >40</text>
<line x1="70.7" y1="700.92" x2="73.2" y2="700.92" stroke="#3c3c3c" stroke-width="1" />
<text x="70.2" y="704.02" font-size="8.6" text-anchor="end" fill="#1e1e1e" >80</text>
<line x1="70.7" y1="679.38" x2="73.2" y2="679.38" stroke="#3c3c3c" stroke-width="1" />
<text x="70.2" y="682.48" font-size="8.6" text-anchor="end" fill="#1e1e1e" >120</text>
<line x1="70.7" y1="657.84" x2="73.2" y2="657.84" stroke="#3c3c3c" stroke-width="1" />
<text x="70.2" y="660.94" font-size="8.6" text-anchor="end" fill="#1e1e1e" >160</text>
<line x1="70.7" y1="636.3" x2="73.2" y2="636.3" stroke="#3c3c3c" stroke-width="1" />
<text x="70.2" y="639.4" font-size="8.6" text-anchor="end" fill="#1e1e1e" >200</text>
<line x1="87.95" y1="744" x2="87.95" y2="746.5" stroke="#3c3c3c" stroke-width="1" />
<text x="87.95" y="753.2" font-size="8.6" text-anchor="middle" fill="#1e1e1e" >P</text>
<line x1="116.7" y1="744" x2="116.7" y2="746.5" stroke="#3c3c3c" stroke-width="1" />
<text x="116.7" y="753.2" font-size="8.6" text-anchor="middle" fill="#1e1e1e" >PA</text>
<line x1="145.45" y1="744" x2="145.45" y2="746.5" stroke="#3c3c3c" stroke-width="1" />
<text x="145.45" y="753.2" font-size="8.6" text-anchor="middle" fill="#1e1e1e" >PAT</text>
<line x1="174.2" y1="744" x2="174.2" y2="746.5" stroke="#3c3c3c" stroke-width="1" />
<text x="174.2" y="753.2" font-size="8.6" text-anchor="middle" fill="#1e1e1e" >PAH</text>
<line x1="202.95" y1="744" x2="202.95" y2="746.5" stroke="#3c3c3c" stroke-width="1" />
<text x="202.95" y="753.2" font-size="8.6" text-anchor="middle" fill="#1e1e1e" >PAHT</text>
<text transform="translate(51.9,690.15) rotate(-90)" font-size="10.9" text-anchor="middle" fill="#1e1e1e">Compression modulus (kPa)</text>
<path d="M87.6,649.9 V644.2 H159.9 V649.9" fill="none" stroke="#3c3c3c" stroke-width="1"/>
<path d="M116.7,649.9 H202.9" fill="none" stroke="#3c3c3c" stroke-width="1"/>
<text x="122.55" y="647.47" font-size="9.5" text-anchor="middle" fill="#222" letter-spacing="0.3">***</text>
<path d="M309.51,743.9 L310.73,743.9 L311.95,743.9 L313.17,743.9 L314.39,743.9 L315.61,743.17 L316.83,742.37 L318.06,741.57 L319.28,740.77 L320.5,739.96 L321.72,739.14 L322.94,738.33 L324.16,737.5 L325.38,736.66 L326.6,735.81 L327.82,734.95 L329.05,734.09 L330.27,733.23 L331.49,732.36 L332.71,731.49 L333.93,730.63 L335.15,729.76 L336.37,728.9 L337.59,728.05 L338.81,727.21 L340.03,726.37 L341.26,725.54 L342.48,724.73 L343.7,723.93 L344.92,723.14 L346.14,722.38 L347.36,721.63 L348.58,720.9 L349.8,720.19 L351.02,719.49 L352.25,718.8 L353.47,718.13 L354.69,717.46 L355.91,716.8 L357.13,716.15 L358.35,715.49 L359.57,714.83 L360.79,714.17 L362.01,713.5 L363.24,712.83 L364.46,712.14 L365.68,711.45 L366.9,710.74 L368.12,710.01 L369.34,709.26 L370.56,708.49 L371.78,707.7 L373,706.89 L374.22,706.07 L375.45,705.24 L376.67,704.39 L377.89,703.53 L379.11,702.66 L380.33,701.78 L381.55,700.89 L382.77,699.99 L383.99,699.09 L385.21,698.18 L386.44,697.28 L387.66,696.36 L388.88,695.45 L390.1,694.54 L391.32,693.64 L392.54,692.73 L393.76,691.83 L394.98,690.95 L396.2,690.13 L397.43,689.35 L398.65,688.58 L399.87,687.8 L401.09,686.98 L402.31,686.09 L403.53,685.11 L404.75,683.8 L405.97,682.3 L407.19,680.57 L408.41,678.55 L409.64,676.25 L410.86,673.7 L412.08,670.91 L413.3,667.92 L414.52,664.75 L415.74,661.42 L416.96,657.95 L418.18,654.38" fill="none" stroke="#48a0a3" stroke-width="1.1" stroke-linejoin="round" stroke-linecap="round" />
<path d="M309.51,743.9 L310.73,743.7 L311.95,743.37 L313.17,742.93 L314.39,742.43 L315.61,741.74 L316.83,740.81 L318.06,739.72 L319.28,738.55 L320.5,737.39 L321.72,736.32 L322.94,735.38 L324.16,734.47 L325.38,733.56 L326.6,732.66 L327.82,731.77 L329.05,730.89 L330.27,730.02 L331.49,729.16 L332.71,728.31 L333.93,727.47 L335.15,726.64 L336.37,725.81 L337.59,725 L338.81,724.19 L340.03,723.39 L341.26,722.6 L342.48,721.81 L343.7,721.04 L344.92,720.27 L346.14,719.51 L347.36,718.76 L348.58,718.03 L349.8,717.32 L351.02,716.62 L352.25,715.94 L353.47,715.26 L354.69,714.59 L355.91,713.93 L357.13,713.28 L358.35,712.62 L359.57,711.96 L360.79,711.3 L362.01,710.63 L363.24,709.96 L364.46,709.28 L365.68,708.58 L366.9,707.87 L368.12,707.14 L369.34,706.39 L370.56,705.62 L371.78,704.85 L373,704.07 L374.22,703.29 L375.45,702.5 L376.67,701.71 L377.89,700.9 L379.11,700.09 L380.33,699.27 L381.55,698.43 L382.77,697.58 L383.99,696.71 L385.21,695.83 L386.44,694.92 L387.66,694 L388.88,693.05 L390.1,692.08 L391.32,691.09 L392.54,690.07 L393.76,689.02 L394.98,687.94 L396.2,686.82 L397.43,685.67 L398.65,684.48 L399.87,683.26 L401.09,682 L402.31,680.72 L403.53,679.4 L404.75,678.05 L405.97,676.66 L407.19,675.25 L408.41,673.82 L409.64,672.35 L410.86,670.86 L412.08,669.34 L413.3,667.8 L414.52,666.24 L415.74,664.65 L416.96,663.04 L418.18,661.41" fill="none" stroke="#a2dcd3" stroke-width="1.1" stroke-linejoin="round" stroke-linecap="round" />
<path d="M309.51,743.9 L310.73,743.9 L311.95,743.9 L313.17,743.9 L314.39,743.9 L315.61,743.9 L316.83,743.9 L318.06,743.3 L319.28,742.14 L320.5,740.98 L321.72,739.91 L322.94,738.97 L324.16,738.05 L325.38,737.14 L326.6,736.25 L327.82,735.36 L329.05,734.48 L330.27,733.61 L331.49,732.75 L332.71,731.9 L333.93,731.06 L335.15,730.22 L336.37,729.4 L337.59,728.58 L338.81,727.78 L340.03,726.98 L341.26,726.19 L342.48,725.4 L343.7,724.62 L344.92,723.86 L346.14,723.09 L347.36,722.34 L348.58,721.62 L349.8,720.9 L351.02,720.21 L352.25,719.52 L353.47,718.85 L354.69,718.18 L355.91,717.52 L357.13,716.86 L358.35,716.21 L359.57,715.55 L360.79,714.89 L362.01,714.22 L363.24,713.55 L364.46,712.86 L365.68,712.17 L366.9,711.45 L368.12,710.72 L369.34,709.98 L370.56,709.21 L371.78,708.43 L373,707.66 L374.22,706.87 L375.45,706.09 L376.67,705.29 L377.89,704.49 L379.11,703.68 L380.33,702.85 L381.55,702.02 L382.77,701.17 L383.99,700.3 L385.21,699.41 L386.44,698.51 L387.66,697.59 L388.88,696.64 L390.1,695.67 L391.32,694.68 L392.54,693.65 L393.76,692.61 L394.98,691.53 L396.2,690.41 L397.43,689.26 L398.65,688.07 L399.87,686.85 L401.09,685.59 L402.31,684.3 L403.53,682.98 L404.75,681.39 L405.97,679.7 L407.19,677.99 L408.41,676.25 L409.64,674.48 L410.86,672.68 L412.08,670.86 L413.3,669.02 L414.52,667.15 L415.74,665.26 L416.96,663.34 L418.18,661.41" fill="none" stroke="#a2dcd3" stroke-width="1.1" stroke-linejoin="round" stroke-linecap="round" />
<path d="M310.71,743.9 L311.92,743.72 L313.12,743.39 L314.33,742.95 L315.54,742.45 L316.75,741.77 L317.95,740.82 L319.16,739.72 L320.37,738.59 L321.58,737.51 L322.78,736.58 L323.99,735.68 L325.2,734.78 L326.41,733.89 L327.61,733.01 L328.82,732.14 L330.03,731.28 L331.24,730.43 L332.45,729.59 L333.65,728.75 L334.86,727.92 L336.07,727.11 L337.28,726.3 L338.48,725.49 L339.69,724.7 L340.9,723.91 L342.11,723.13 L343.31,722.36 L344.52,721.6 L345.73,720.84 L346.94,720.09 L348.14,719.36 L349.35,718.65 L350.56,717.96 L351.77,717.28 L352.97,716.61 L354.18,715.95 L355.39,715.29 L356.6,714.64 L357.8,713.99 L359.01,713.34 L360.22,712.69 L361.43,712.03 L362.63,711.37 L363.84,710.7 L365.05,710.01 L366.26,709.32 L367.46,708.61 L368.67,707.88 L369.88,707.13 L371.09,706.36 L372.3,705.59 L373.5,704.8 L374.71,704.01 L375.92,703.21 L377.13,702.4 L378.33,701.59 L379.54,700.76 L380.75,699.92 L381.96,699.07 L383.16,698.2 L384.37,697.33 L385.58,696.44 L386.79,695.54 L387.99,694.63 L389.2,693.71 L390.41,692.76 L391.62,691.81 L392.82,690.84 L394.03,689.85 L395.24,688.85 L396.45,687.83 L397.65,686.78 L398.86,685.72 L400.07,684.64 L401.28,683.54 L402.48,682.42 L403.69,681.29 L404.9,680.14 L406.11,678.97 L407.32,677.78 L408.52,676.58 L409.73,675.37 L410.94,674.13 L412.15,672.88 L413.35,671.62 L414.56,670.34 L415.77,669.05 L416.98,667.75 L418.18,666.43" fill="none" stroke="#c5cf5a" stroke-width="1.1" stroke-linejoin="round" stroke-linecap="round" />
<path d="M310.71,743.9 L311.92,743.9 L313.12,743.9 L314.33,743.9 L315.54,743.9 L316.75,743.9 L317.95,743.9 L319.16,743.31 L320.37,742.17 L321.58,741.1 L322.78,740.17 L323.99,739.26 L325.2,738.37 L326.41,737.48 L327.61,736.6 L328.82,735.73 L330.03,734.87 L331.24,734.02 L332.45,733.17 L333.65,732.34 L334.86,731.51 L336.07,730.69 L337.28,729.88 L338.48,729.08 L339.69,728.28 L340.9,727.5 L342.11,726.72 L343.31,725.95 L344.52,725.18 L345.73,724.43 L346.94,723.68 L348.14,722.95 L349.35,722.24 L350.56,721.55 L351.77,720.86 L352.97,720.19 L354.18,719.53 L355.39,718.88 L356.6,718.23 L357.8,717.58 L359.01,716.93 L360.22,716.27 L361.43,715.62 L362.63,714.96 L363.84,714.28 L365.05,713.6 L366.26,712.9 L367.46,712.19 L368.67,711.46 L369.88,710.71 L371.09,709.95 L372.3,709.17 L373.5,708.39 L374.71,707.6 L375.92,706.8 L377.13,705.99 L378.33,705.17 L379.54,704.34 L380.75,703.5 L381.96,702.65 L383.16,701.79 L384.37,700.92 L385.58,700.03 L386.79,699.13 L387.99,698.22 L389.2,697.29 L390.41,696.35 L391.62,695.4 L392.82,694.43 L394.03,693.44 L395.24,692.44 L396.45,691.41 L397.65,690.37 L398.86,689.31 L400.07,688.23 L401.28,687.13 L402.48,686.01 L403.69,684.88 L404.9,683.44 L406.11,681.98 L407.32,680.49 L408.52,678.99 L409.73,677.47 L410.94,675.94 L412.15,674.39 L413.35,672.82 L414.56,671.25 L415.77,669.65 L416.98,668.05 L418.18,666.43" fill="none" stroke="#c5cf5a" stroke-width="1.1" stroke-linejoin="round" stroke-linecap="round" />
<path d="M311.91,743.9 L313.1,743.75 L314.3,743.43 L315.49,742.99 L316.69,742.48 L317.88,741.75 L319.07,740.7 L320.27,739.51 L321.46,738.36 L322.66,737.38 L323.85,736.46 L325.04,735.55 L326.24,734.66 L327.43,733.78 L328.63,732.91 L329.82,732.06 L331.01,731.21 L332.21,730.38 L333.4,729.56 L334.6,728.75 L335.79,727.94 L336.99,727.15 L338.18,726.36 L339.37,725.59 L340.57,724.82 L341.76,724.05 L342.96,723.3 L344.15,722.54 L345.34,721.8 L346.54,721.05 L347.73,720.33 L348.93,719.62 L350.12,718.93 L351.31,718.25 L352.51,717.58 L353.7,716.92 L354.9,716.27 L356.09,715.63 L357.28,714.99 L358.48,714.34 L359.67,713.7 L360.87,713.05 L362.06,712.4 L363.26,711.74 L364.45,711.07 L365.64,710.39 L366.84,709.7 L368.03,708.98 L369.23,708.25 L370.42,707.5 L371.61,706.74 L372.81,705.97 L374,705.19 L375.2,704.4 L376.39,703.6 L377.58,702.79 L378.78,701.98 L379.97,701.15 L381.17,700.31 L382.36,699.46 L383.55,698.6 L384.75,697.73 L385.94,696.85 L387.14,695.96 L388.33,695.06 L389.53,694.14 L390.72,693.21 L391.91,692.27 L393.11,691.32 L394.3,690.35 L395.5,689.37 L396.69,688.37 L397.88,687.35 L399.08,686.32 L400.27,685.28 L401.47,684.21 L402.66,683.14 L403.85,682.04 L405.05,680.94 L406.24,679.81 L407.44,678.68 L408.63,677.53 L409.82,676.37 L411.02,675.19 L412.21,674 L413.41,672.8 L414.6,671.58 L415.8,670.35 L416.99,669.11 L418.18,667.86" fill="none" stroke="#ecd070" stroke-width="1.1" stroke-linejoin="round" stroke-linecap="round" />
<path d="M311.91,743.9 L313.1,743.9 L314.3,743.9 L315.49,743.9 L316.69,743.9 L317.88,743.9 L319.07,743.9 L320.27,743.1 L321.46,741.94 L322.66,740.97 L323.85,740.05 L325.04,739.14 L326.24,738.25 L327.43,737.37 L328.63,736.5 L329.82,735.64 L331.01,734.8 L332.21,733.97 L333.4,733.15 L334.6,732.33 L335.79,731.53 L336.99,730.74 L338.18,729.95 L339.37,729.17 L340.57,728.4 L341.76,727.64 L342.96,726.88 L344.15,726.13 L345.34,725.38 L346.54,724.64 L347.73,723.91 L348.93,723.21 L350.12,722.51 L351.31,721.84 L352.51,721.17 L353.7,720.51 L354.9,719.86 L356.09,719.21 L357.28,718.57 L358.48,717.93 L359.67,717.29 L360.87,716.64 L362.06,715.99 L363.26,715.33 L364.45,714.66 L365.64,713.98 L366.84,713.28 L368.03,712.57 L369.23,711.84 L370.42,711.09 L371.61,710.33 L372.81,709.56 L374,708.78 L375.2,707.99 L376.39,707.19 L377.58,706.38 L378.78,705.56 L379.97,704.74 L381.17,703.9 L382.36,703.05 L383.55,702.19 L384.75,701.32 L385.94,700.44 L387.14,699.55 L388.33,698.64 L389.53,697.73 L390.72,696.8 L391.91,695.86 L393.11,694.9 L394.3,693.94 L395.5,692.95 L396.69,691.95 L397.88,690.94 L399.08,689.91 L400.27,688.86 L401.47,687.8 L402.66,686.72 L403.85,685.61 L405.05,684.21 L406.24,682.79 L407.44,681.35 L408.63,679.91 L409.82,678.45 L411.02,676.97 L412.21,675.49 L413.41,673.99 L414.6,672.47 L415.8,670.95 L416.99,669.41 L418.18,667.86" fill="none" stroke="#ecd070" stroke-width="1.1" stroke-linejoin="round" stroke-linecap="round" />
<path d="M313.11,743.9 L314.29,743.78 L315.47,743.47 L316.65,743.02 L317.83,742.5 L319.01,741.7 L320.19,740.49 L321.37,739.21 L322.56,738.16 L323.74,737.21 L324.92,736.28 L326.1,735.37 L327.28,734.48 L328.46,733.62 L329.64,732.76 L330.82,731.93 L332,731.11 L333.18,730.3 L334.36,729.51 L335.54,728.73 L336.72,727.95 L337.9,727.19 L339.08,726.44 L340.26,725.69 L341.44,724.94 L342.63,724.2 L343.81,723.47 L344.99,722.73 L346.17,722 L347.35,721.28 L348.53,720.57 L349.71,719.88 L350.89,719.21 L352.07,718.54 L353.25,717.89 L354.43,717.24 L355.61,716.6 L356.79,715.97 L357.97,715.33 L359.15,714.7 L360.33,714.06 L361.51,713.42 L362.7,712.77 L363.88,712.11 L365.06,711.45 L366.24,710.76 L367.42,710.07 L368.6,709.36 L369.78,708.63 L370.96,707.88 L372.14,707.13 L373.32,706.37 L374.5,705.61 L375.68,704.84 L376.86,704.07 L378.04,703.29 L379.22,702.5 L380.4,701.69 L381.58,700.88 L382.77,700.05 L383.95,699.21 L385.13,698.35 L386.31,697.48 L387.49,696.59 L388.67,695.68 L389.85,694.75 L391.03,693.81 L392.21,692.84 L393.39,691.84 L394.57,690.82 L395.75,689.78 L396.93,688.7 L398.11,687.6 L399.29,686.46 L400.47,685.3 L401.66,684.11 L402.84,682.9 L404.02,681.65 L405.2,680.39 L406.38,679.1 L407.56,677.78 L408.74,676.45 L409.92,675.09 L411.1,673.7 L412.28,672.3 L413.46,670.88 L414.64,669.44 L415.82,667.97 L417,666.49 L418.18,664.99" fill="none" stroke="#d5879f" stroke-width="1.1" stroke-linejoin="round" stroke-linecap="round" />
<path d="M313.11,743.9 L314.29,743.9 L315.47,743.9 L316.65,743.9 L317.83,743.9 L319.01,743.9 L320.19,743.9 L321.37,742.8 L322.56,741.75 L323.74,740.8 L324.92,739.87 L326.1,738.96 L327.28,738.07 L328.46,737.2 L329.64,736.35 L330.82,735.51 L332,734.69 L333.18,733.89 L334.36,733.09 L335.54,732.31 L336.72,731.54 L337.9,730.78 L339.08,730.02 L340.26,729.27 L341.44,728.53 L342.63,727.79 L343.81,727.05 L344.99,726.32 L346.17,725.59 L347.35,724.86 L348.53,724.16 L349.71,723.47 L350.89,722.79 L352.07,722.13 L353.25,721.48 L354.43,720.83 L355.61,720.19 L356.79,719.55 L357.97,718.92 L359.15,718.28 L360.33,717.65 L361.51,717.01 L362.7,716.36 L363.88,715.7 L365.06,715.03 L366.24,714.35 L367.42,713.66 L368.6,712.94 L369.78,712.21 L370.96,711.47 L372.14,710.71 L373.32,709.96 L374.5,709.2 L375.68,708.43 L376.86,707.66 L378.04,706.88 L379.22,706.08 L380.4,705.28 L381.58,704.47 L382.77,703.64 L383.95,702.8 L385.13,701.94 L386.31,701.07 L387.49,700.18 L388.67,699.27 L389.85,698.34 L391.03,697.39 L392.21,696.42 L393.39,695.43 L394.57,694.41 L395.75,693.36 L396.93,692.29 L398.11,691.18 L399.29,690.05 L400.47,688.89 L401.66,687.7 L402.84,686.48 L404.02,685.18 L405.2,683.62 L406.38,682.04 L407.56,680.43 L408.74,678.8 L409.92,677.14 L411.1,675.47 L412.28,673.77 L413.46,672.05 L414.64,670.32 L415.82,668.56 L417,666.79 L418.18,664.99" fill="none" stroke="#d5879f" stroke-width="1.1" stroke-linejoin="round" stroke-linecap="round" />
<path d="M301.7,743.9 L303.01,742.96 L304.32,742.02 L305.63,741.08 L306.94,740.14 L308.25,739.21 L309.56,738.28 L310.86,737.34 L312.17,736.4 L313.48,735.46 L314.79,734.53 L316.1,733.59 L317.41,732.67 L318.72,731.75 L320.03,730.84 L321.33,729.94 L322.64,729.05 L323.95,728.18 L325.26,727.32 L326.57,726.48 L327.88,725.64 L329.19,724.81 L330.5,723.98 L331.8,723.17 L333.11,722.35 L334.42,721.53 L335.73,720.71 L337.04,719.89 L338.35,719.06 L339.66,718.22 L340.97,717.38 L342.27,716.52 L343.58,715.65 L344.89,714.77 L346.2,713.87 L347.51,712.95 L348.82,712.02 L350.13,711.07 L351.44,710.11 L352.74,709.15 L354.05,708.17 L355.36,707.18 L356.67,706.19 L357.98,705.19 L359.29,704.18 L360.6,703.18 L361.91,702.17 L363.21,701.16 L364.52,700.15 L365.83,699.14 L367.14,698.13 L368.45,697.13 L369.76,696.14 L371.07,695.15 L372.38,694.17 L373.69,693.2 L374.99,692.23 L376.3,691.27 L377.61,690.31 L378.92,689.36 L380.23,688.4 L381.54,687.43 L382.85,686.46 L384.16,685.49 L385.46,684.5 L386.77,683.5 L388.08,682.49 L389.39,681.46 L390.7,680.42 L392.01,679.35 L393.32,678.27 L394.63,677.16 L395.93,676.03 L397.24,674.88 L398.55,673.72 L399.86,672.53 L401.17,671.34 L402.48,670.12 L403.79,668.89 L405.1,667.65 L406.4,666.39 L407.71,665.11 L409.02,663.82 L410.33,662.51 L411.64,661.19 L412.95,659.85 L414.26,658.5 L415.57,657.14 L416.87,655.77 L418.18,654.38" fill="none" stroke="#48a0a3" stroke-width="1.2" stroke-linejoin="round" stroke-linecap="round" />
<path d="M298.1,743.9 L316.11,743.9" fill="none" stroke="#b8a070" stroke-width="1.3" stroke-linejoin="round" stroke-linecap="round" />
<path d="M298.1,636.3 H442.2 V743.9 H298.1 Z" fill="none" stroke="#333" stroke-width="1.3"/>
<line x1="295.6" y1="743.9" x2="298.1" y2="743.9" stroke="#333" stroke-width="1" />
<text x="295.1" y="747" font-size="8.7" text-anchor="end" fill="#1e1e1e" >0.00</text>
<line x1="295.6" y1="722.38" x2="298.1" y2="722.38" stroke="#333" stroke-width="1" />
<text x="295.1" y="725.48" font-size="8.7" text-anchor="end" fill="#1e1e1e" >0.03</text>
<line x1="295.6" y1="700.86" x2="298.1" y2="700.86" stroke="#333" stroke-width="1" />
<text x="295.1" y="703.96" font-size="8.7" text-anchor="end" fill="#1e1e1e" >0.06</text>
<line x1="295.6" y1="679.34" x2="298.1" y2="679.34" stroke="#333" stroke-width="1" />
<text x="295.1" y="682.44" font-size="8.7" text-anchor="end" fill="#1e1e1e" >0.09</text>
<line x1="295.6" y1="657.82" x2="298.1" y2="657.82" stroke="#333" stroke-width="1" />
<text x="295.1" y="660.92" font-size="8.7" text-anchor="end" fill="#1e1e1e" >0.12</text>
<line x1="295.6" y1="636.3" x2="298.1" y2="636.3" stroke="#333" stroke-width="1" />
<text x="295.1" y="639.4" font-size="8.7" text-anchor="end" fill="#1e1e1e" >0.15</text>
<line x1="298.1" y1="743.9" x2="298.1" y2="746.4" stroke="#333" stroke-width="1" />
<text x="298.1" y="753.9" font-size="8.7" text-anchor="middle" fill="#1e1e1e" >0</text>
<line x1="322.12" y1="743.9" x2="322.12" y2="746.4" stroke="#333" stroke-width="1" />
<text x="322.12" y="753.9" font-size="8.7" text-anchor="middle" fill="#1e1e1e" >20</text>
<line x1="346.13" y1="743.9" x2="346.13" y2="746.4" stroke="#333" stroke-width="1" />
<text x="346.13" y="753.9" font-size="8.7" text-anchor="middle" fill="#1e1e1e" >40</text>
<line x1="370.15" y1="743.9" x2="370.15" y2="746.4" stroke="#333" stroke-width="1" />
<text x="370.15" y="753.9" font-size="8.7" text-anchor="middle" fill="#1e1e1e" >60</text>
<line x1="394.17" y1="743.9" x2="394.17" y2="746.4" stroke="#333" stroke-width="1" />
<text x="394.17" y="753.9" font-size="8.7" text-anchor="middle" fill="#1e1e1e" >80</text>
<line x1="418.18" y1="743.9" x2="418.18" y2="746.4" stroke="#333" stroke-width="1" />
<text x="418.18" y="753.9" font-size="8.7" text-anchor="middle" fill="#1e1e1e" >100</text>
<line x1="442.2" y1="743.9" x2="442.2" y2="746.4" stroke="#333" stroke-width="1" />
<text x="442.2" y="753.9" font-size="8.7" text-anchor="middle" fill="#1e1e1e" >120</text>
<text x="370.15" y="765.8" font-size="10.3" text-anchor="middle" fill="#222" >Tensile strain (%)</text>
<text transform="translate(273,690.1) rotate(-90)" font-size="10.3" text-anchor="middle" fill="#222">Tensile stress (MPa)</text>
<line x1="305.3" y1="646.4" x2="324.7" y2="646.4" stroke="#48a0a3" stroke-width="1.5" />
<text x="327.1" y="649.6" font-size="8.7" text-anchor="start" fill="#222" >1st</text>
<line x1="305.3" y1="656.7" x2="324.7" y2="656.7" stroke="#a2dcd3" stroke-width="1.5" />
<text x="327.1" y="659.9" font-size="8.7" text-anchor="start" fill="#222" >2nd</text>
<line x1="305.3" y1="666.9" x2="324.7" y2="666.9" stroke="#c5cf5a" stroke-width="1.5" />
<text x="327.1" y="670.1" font-size="8.7" text-anchor="start" fill="#222" >5th</text>
<line x1="305.3" y1="677.4" x2="324.7" y2="677.4" stroke="#ecd070" stroke-width="1.5" />
<text x="327.1" y="680.6" font-size="8.7" text-anchor="start" fill="#222" >10th</text>
<line x1="305.3" y1="687.9" x2="324.7" y2="687.9" stroke="#d5879f" stroke-width="1.5" />
<text x="327.1" y="691.1" font-size="8.7" text-anchor="start" fill="#222" >20th</text>
<text x="529" y="739.5" font-size="27" font-weight="bold" fill="#cbcbcb" textLength="135" lengthAdjust="spacingAndGlyphs" font-family="'Liberation Sans', 'Noto Sans CJK SC', sans-serif">嘉峪检测网</text>
<text x="530" y="758.5" font-size="17" font-weight="bold" fill="#dedede" font-style="italic" textLength="130" lengthAdjust="spacingAndGlyphs">AnyTesting.com</text>
<path d="M531.29,743.9 L532.53,743.85 L533.77,743.8 L535.01,743.74 L536.25,743.68 L537.49,743.61 L538.73,743.54 L539.97,743.46 L541.21,743.37 L542.45,743.29 L543.69,743.19 L544.93,743.1 L546.17,743 L547.41,742.9 L548.65,742.79 L549.89,742.67 L551.13,742.55 L552.37,742.42 L553.61,742.28 L554.85,742.14 L556.09,741.99 L557.32,741.84 L558.56,741.68 L559.8,741.51 L561.04,741.34 L562.28,741.16 L563.52,740.97 L564.76,740.78 L566,740.57 L567.24,740.37 L568.48,740.15 L569.72,739.93 L570.96,739.7 L572.2,739.45 L573.44,739.18 L574.68,738.9 L575.92,738.6 L577.16,738.28 L578.4,737.95 L579.64,737.6 L580.88,737.24 L582.12,736.87 L583.36,736.47 L584.6,736.07 L585.84,735.65 L587.07,735.21 L588.31,734.76 L589.55,734.3 L590.79,733.82 L592.03,733.33 L593.27,732.82 L594.51,732.3 L595.75,731.74 L596.99,731.14 L598.23,730.51 L599.47,729.84 L600.71,729.14 L601.95,728.41 L603.19,727.64 L604.43,726.85 L605.67,726.02 L606.91,725.17 L608.15,724.29 L609.39,723.39 L610.63,722.46 L611.87,721.5 L613.11,720.53 L614.35,719.53 L615.59,718.51 L616.82,717.47 L618.06,716.42 L619.3,715.36 L620.54,714.28 L621.78,713.16 L623.02,711.97 L624.26,710.69 L625.5,709.29 L626.74,707.74 L627.98,706.02 L629.22,704.11 L630.46,701.9 L631.7,699.12 L632.94,695.81 L634.18,692.01 L635.42,687.78 L636.66,683.15 L637.9,678.19 L639.14,672.93 L640.38,667.43 L641.62,661.74" fill="none" stroke="#d5879f" stroke-width="1.1" stroke-linejoin="round" stroke-linecap="round" />
<path d="M531.29,743.9 L532.53,743.86 L533.77,743.81 L535.01,743.75 L536.25,743.69 L537.49,743.62 L538.73,743.55 L539.97,743.47 L541.21,743.38 L542.45,743.29 L543.69,743.2 L544.93,743.1 L546.17,743 L547.41,742.89 L548.65,742.78 L549.89,742.65 L551.13,742.52 L552.37,742.38 L553.61,742.23 L554.85,742.08 L556.09,741.92 L557.32,741.75 L558.56,741.57 L559.8,741.38 L561.04,741.19 L562.28,741 L563.52,740.79 L564.76,740.58 L566,740.36 L567.24,740.14 L568.48,739.91 L569.72,739.67 L570.96,739.42 L572.2,739.16 L573.44,738.88 L574.68,738.59 L575.92,738.28 L577.16,737.95 L578.4,737.61 L579.64,737.26 L580.88,736.89 L582.12,736.5 L583.36,736.1 L584.6,735.68 L585.84,735.26 L587.07,734.81 L588.31,734.35 L589.55,733.88 L590.79,733.39 L592.03,732.89 L593.27,732.37 L594.51,731.84 L595.75,731.27 L596.99,730.66 L598.23,730.01 L599.47,729.33 L600.71,728.62 L601.95,727.88 L603.19,727.1 L604.43,726.3 L605.67,725.46 L606.91,724.6 L608.15,723.71 L609.39,722.8 L610.63,721.86 L611.87,720.89 L613.11,719.91 L614.35,718.9 L615.59,717.88 L616.82,716.83 L618.06,715.77 L619.3,714.71 L620.54,713.63 L621.78,712.5 L623.02,711.31 L624.26,710.03 L625.5,708.63 L626.74,707.08 L627.98,705.37 L629.22,703.46 L630.46,701.26 L631.7,698.5 L632.94,695.22 L634.18,691.46 L635.42,687.27 L636.66,682.7 L637.9,677.8 L639.14,672.6 L640.38,667.17 L641.62,661.54" fill="none" stroke="#ecd070" stroke-width="1.1" stroke-linejoin="round" stroke-linecap="round" />
<path d="M531.29,743.9 L532.53,743.86 L533.77,743.82 L535.01,743.76 L536.25,743.7 L537.49,743.63 L538.73,743.56 L539.97,743.48 L541.21,743.39 L542.45,743.3 L543.69,743.2 L544.93,743.1 L546.17,743 L547.41,742.89 L548.65,742.76 L549.89,742.63 L551.13,742.49 L552.37,742.34 L553.61,742.18 L554.85,742.01 L556.09,741.84 L557.32,741.65 L558.56,741.46 L559.8,741.26 L561.04,741.05 L562.28,740.84 L563.52,740.61 L564.76,740.39 L566,740.15 L567.24,739.91 L568.48,739.66 L569.72,739.41 L570.96,739.15 L572.2,738.87 L573.44,738.58 L574.68,738.28 L575.92,737.96 L577.16,737.62 L578.4,737.27 L579.64,736.91 L580.88,736.53 L582.12,736.13 L583.36,735.73 L584.6,735.3 L585.84,734.86 L587.07,734.41 L588.31,733.94 L589.55,733.46 L590.79,732.96 L592.03,732.45 L593.27,731.93 L594.51,731.38 L595.75,730.8 L596.99,730.18 L598.23,729.52 L599.47,728.83 L600.71,728.11 L601.95,727.35 L603.19,726.57 L604.43,725.75 L605.67,724.9 L606.91,724.03 L608.15,723.13 L609.39,722.21 L610.63,721.26 L611.87,720.29 L613.11,719.29 L614.35,718.28 L615.59,717.24 L616.82,716.19 L618.06,715.12 L619.3,714.05 L620.54,712.97 L621.78,711.84 L623.02,710.65 L624.26,709.37 L625.5,707.97 L626.74,706.43 L627.98,704.72 L629.22,702.82 L630.46,700.62 L631.7,697.88 L632.94,694.63 L634.18,690.91 L635.42,686.77 L636.66,682.25 L637.9,677.4 L639.14,672.27 L640.38,666.91 L641.62,661.35" fill="none" stroke="#c5cf5a" stroke-width="1.1" stroke-linejoin="round" stroke-linecap="round" />
<path d="M531.29,743.9 L532.53,743.87 L533.77,743.83 L535.01,743.77 L536.25,743.71 L537.49,743.64 L538.73,743.57 L539.97,743.48 L541.21,743.39 L542.45,743.3 L543.69,743.2 L544.93,743.1 L546.17,743 L547.41,742.88 L548.65,742.75 L549.89,742.61 L551.13,742.46 L552.37,742.3 L553.61,742.13 L554.85,741.95 L556.09,741.76 L557.32,741.56 L558.56,741.35 L559.8,741.13 L561.04,740.91 L562.28,740.67 L563.52,740.43 L564.76,740.19 L566,739.94 L567.24,739.68 L568.48,739.42 L569.72,739.15 L570.96,738.88 L572.2,738.59 L573.44,738.29 L574.68,737.97 L575.92,737.64 L577.16,737.29 L578.4,736.93 L579.64,736.56 L580.88,736.17 L582.12,735.77 L583.36,735.35 L584.6,734.92 L585.84,734.47 L587.07,734.01 L588.31,733.53 L589.55,733.04 L590.79,732.54 L592.03,732.01 L593.27,731.48 L594.51,730.92 L595.75,730.32 L596.99,729.69 L598.23,729.03 L599.47,728.32 L600.71,727.59 L601.95,726.82 L603.19,726.03 L604.43,725.2 L605.67,724.35 L606.91,723.46 L608.15,722.55 L609.39,721.62 L610.63,720.66 L611.87,719.68 L613.11,718.68 L614.35,717.65 L615.59,716.61 L616.82,715.55 L618.06,714.47 L619.3,713.4 L620.54,712.31 L621.78,711.18 L623.02,709.99 L624.26,708.71 L625.5,707.31 L626.74,705.77 L627.98,704.07 L629.22,702.17 L630.46,699.98 L631.7,697.26 L632.94,694.04 L634.18,690.35 L635.42,686.26 L636.66,681.8 L637.9,677.01 L639.14,671.94 L640.38,666.64 L641.62,661.16" fill="none" stroke="#a2dcd3" stroke-width="1.1" stroke-linejoin="round" stroke-linecap="round" />
<path d="M528.9,743.9 L530.16,743.86 L531.43,743.81 L532.69,743.74 L533.96,743.67 L535.23,743.58 L536.49,743.49 L537.76,743.38 L539.03,743.27 L540.29,743.16 L541.56,743.04 L542.83,742.91 L544.09,742.78 L545.36,742.64 L546.63,742.5 L547.89,742.35 L549.16,742.17 L550.43,741.99 L551.69,741.78 L552.96,741.57 L554.23,741.34 L555.49,741.1 L556.76,740.85 L558.03,740.59 L559.29,740.33 L560.56,740.05 L561.82,739.76 L563.09,739.47 L564.36,739.17 L565.62,738.87 L566.89,738.56 L568.16,738.25 L569.42,737.94 L570.69,737.62 L571.96,737.29 L573.22,736.95 L574.49,736.6 L575.76,736.24 L577.02,735.87 L578.29,735.49 L579.56,735.1 L580.82,734.69 L582.09,734.27 L583.36,733.84 L584.62,733.39 L585.89,732.92 L587.16,732.44 L588.42,731.94 L589.69,731.43 L590.96,730.89 L592.22,730.34 L593.49,729.77 L594.75,729.17 L596.02,728.53 L597.29,727.86 L598.55,727.14 L599.82,726.39 L601.09,725.6 L602.35,724.78 L603.62,723.92 L604.89,723.04 L606.15,722.12 L607.42,721.18 L608.69,720.21 L609.95,719.21 L611.22,718.19 L612.49,717.15 L613.75,716.08 L615.02,715 L616.29,713.89 L617.55,712.77 L618.82,711.64 L620.09,710.51 L621.35,709.35 L622.62,708.14 L623.89,706.84 L625.15,705.43 L626.42,703.87 L627.68,702.16 L628.95,700.24 L630.22,698.07 L631.48,695.39 L632.75,692.19 L634.02,688.51 L635.28,684.41 L636.55,679.92 L637.82,675.11 L639.08,670 L640.35,664.65 L641.62,659.11" fill="none" stroke="#48a0a3" stroke-width="1.1" stroke-linejoin="round" stroke-linecap="round" />
<path d="M521.7,743.9 L523.05,743.89 L524.39,743.86 L525.74,743.81 L527.09,743.74 L528.44,743.66 L529.78,743.56 L531.13,743.45 L532.48,743.32 L533.83,743.18 L535.17,743.03 L536.52,742.87 L537.87,742.7 L539.22,742.53 L540.56,742.35 L541.91,742.16 L543.26,741.97 L544.61,741.78 L545.95,741.58 L547.3,741.35 L548.65,741.09 L549.99,740.8 L551.34,740.47 L552.69,740.11 L554.04,739.72 L555.38,739.31 L556.73,738.88 L558.08,738.43 L559.43,737.97 L560.77,737.49 L562.12,737 L563.47,736.51 L564.82,736.01 L566.16,735.51 L567.51,735.01 L568.86,734.51 L570.21,734.02 L571.55,733.52 L572.9,733.02 L574.25,732.51 L575.6,731.98 L576.94,731.45 L578.29,730.91 L579.64,730.35 L580.98,729.78 L582.33,729.2 L583.68,728.6 L585.03,727.99 L586.37,727.36 L587.72,726.72 L589.07,726.06 L590.42,725.38 L591.76,724.68 L593.11,723.96 L594.46,723.23 L595.81,722.47 L597.15,721.7 L598.5,720.9 L599.85,720.08 L601.2,719.23 L602.54,718.36 L603.89,717.46 L605.24,716.54 L606.58,715.58 L607.93,714.59 L609.28,713.57 L610.63,712.52 L611.97,711.43 L613.32,710.31 L614.67,709.15 L616.02,707.95 L617.36,706.71 L618.71,705.42 L620.06,704.06 L621.41,702.62 L622.75,701.09 L624.1,699.45 L625.45,697.7 L626.8,695.82 L628.14,693.79 L629.49,691.62 L630.84,689.21 L632.19,686.5 L633.53,683.5 L634.88,680.22 L636.23,676.71 L637.57,672.97 L638.92,669.04 L640.27,664.92 L641.62,660.66" fill="none" stroke="#d5879f" stroke-width="1.1" stroke-linejoin="round" stroke-linecap="round" />
<path d="M521.7,743.9 L523.05,743.89 L524.39,743.86 L525.74,743.8 L527.09,743.73 L528.44,743.64 L529.78,743.54 L531.13,743.42 L532.48,743.28 L533.83,743.14 L535.17,742.98 L536.52,742.81 L537.87,742.63 L539.22,742.45 L540.56,742.25 L541.91,742.06 L543.26,741.86 L544.61,741.65 L545.95,741.45 L547.3,741.22 L548.65,740.95 L549.99,740.64 L551.34,740.31 L552.69,739.95 L554.04,739.56 L555.38,739.14 L556.73,738.71 L558.08,738.26 L559.43,737.79 L560.77,737.31 L562.12,736.82 L563.47,736.32 L564.82,735.81 L566.16,735.31 L567.51,734.8 L568.86,734.3 L570.21,733.8 L571.55,733.3 L572.9,732.78 L574.25,732.26 L575.6,731.73 L576.94,731.18 L578.29,730.62 L579.64,730.05 L580.98,729.47 L582.33,728.87 L583.68,728.26 L585.03,727.64 L586.37,726.99 L587.72,726.34 L589.07,725.66 L590.42,724.97 L591.76,724.26 L593.11,723.54 L594.46,722.79 L595.81,722.03 L597.15,721.25 L598.5,720.45 L599.85,719.62 L601.2,718.78 L602.54,717.91 L603.89,717.01 L605.24,716.08 L606.58,715.13 L607.93,714.15 L609.28,713.13 L610.63,712.08 L611.97,711 L613.32,709.88 L614.67,708.72 L616.02,707.52 L617.36,706.28 L618.71,704.99 L620.06,703.63 L621.41,702.19 L622.75,700.65 L624.1,699.01 L625.45,697.26 L626.8,695.38 L628.14,693.36 L629.49,691.19 L630.84,688.79 L632.19,686.09 L633.53,683.11 L634.88,679.86 L636.23,676.38 L637.57,672.68 L638.92,668.78 L640.27,664.71 L641.62,660.49" fill="none" stroke="#ecd070" stroke-width="1.1" stroke-linejoin="round" stroke-linecap="round" />
<path d="M521.7,743.9 L523.05,743.89 L524.39,743.85 L525.74,743.8 L527.09,743.72 L528.44,743.62 L529.78,743.51 L531.13,743.38 L532.48,743.24 L533.83,743.09 L535.17,742.92 L536.52,742.74 L537.87,742.56 L539.22,742.36 L540.56,742.16 L541.91,741.95 L543.26,741.74 L544.61,741.53 L545.95,741.32 L547.3,741.08 L548.65,740.8 L549.99,740.49 L551.34,740.15 L552.69,739.78 L554.04,739.39 L555.38,738.97 L556.73,738.54 L558.08,738.08 L559.43,737.61 L560.77,737.12 L562.12,736.63 L563.47,736.13 L564.82,735.62 L566.16,735.11 L567.51,734.6 L568.86,734.09 L570.21,733.58 L571.55,733.07 L572.9,732.55 L574.25,732.01 L575.6,731.47 L576.94,730.91 L578.29,730.34 L579.64,729.75 L580.98,729.16 L582.33,728.55 L583.68,727.92 L585.03,727.28 L586.37,726.63 L587.72,725.96 L589.07,725.27 L590.42,724.57 L591.76,723.85 L593.11,723.11 L594.46,722.36 L595.81,721.59 L597.15,720.8 L598.5,719.99 L599.85,719.17 L601.2,718.32 L602.54,717.45 L603.89,716.56 L605.24,715.63 L606.58,714.68 L607.93,713.7 L609.28,712.69 L610.63,711.64 L611.97,710.56 L613.32,709.44 L614.67,708.28 L616.02,707.09 L617.36,705.85 L618.71,704.56 L620.06,703.2 L621.41,701.75 L622.75,700.22 L624.1,698.58 L625.45,696.82 L626.8,694.94 L628.14,692.92 L629.49,690.76 L630.84,688.37 L632.19,685.69 L633.53,682.72 L634.88,679.51 L636.23,676.05 L637.57,672.38 L638.92,668.52 L640.27,664.5 L641.62,660.32" fill="none" stroke="#c5cf5a" stroke-width="1.1" stroke-linejoin="round" stroke-linecap="round" />
<path d="M521.7,743.9 L523.05,743.87 L524.39,743.83 L525.74,743.76 L527.09,743.67 L528.44,743.57 L529.78,743.44 L531.13,743.31 L532.48,743.16 L533.83,742.99 L535.17,742.81 L536.52,742.63 L537.87,742.43 L539.22,742.22 L540.56,742.01 L541.91,741.79 L543.26,741.57 L544.61,741.35 L545.95,741.12 L547.3,740.87 L548.65,740.58 L549.99,740.26 L551.34,739.92 L552.69,739.54 L554.04,739.14 L555.38,738.72 L556.73,738.28 L558.08,737.82 L559.43,737.34 L560.77,736.85 L562.12,736.35 L563.47,735.84 L564.82,735.33 L566.16,734.81 L567.51,734.29 L568.86,733.77 L570.21,733.26 L571.55,732.73 L572.9,732.19 L574.25,731.64 L575.6,731.08 L576.94,730.5 L578.29,729.91 L579.64,729.31 L580.98,728.69 L582.33,728.06 L583.68,727.41 L585.03,726.75 L586.37,726.07 L587.72,725.38 L589.07,724.68 L590.42,723.96 L591.76,723.22 L593.11,722.47 L594.46,721.7 L595.81,720.92 L597.15,720.13 L598.5,719.32 L599.85,718.49 L601.2,717.64 L602.54,716.77 L603.89,715.88 L605.24,714.96 L606.58,714.01 L607.93,713.03 L609.28,712.02 L610.63,710.98 L611.97,709.9 L613.32,708.79 L614.67,707.64 L616.02,706.44 L617.36,705.2 L618.71,703.91 L620.06,702.55 L621.41,701.1 L622.75,699.56 L624.1,697.92 L625.45,696.16 L626.8,694.28 L628.14,692.27 L629.49,690.11 L630.84,687.74 L632.19,685.08 L633.53,682.15 L634.88,678.97 L636.23,675.56 L637.57,671.94 L638.92,668.14 L640.27,664.17 L641.62,660.06" fill="none" stroke="#a2dcd3" stroke-width="1.1" stroke-linejoin="round" stroke-linecap="round" />
<path d="M521.7,743.9 L523.05,743.79 L524.39,743.67 L525.74,743.53 L527.09,743.37 L528.44,743.2 L529.78,743.02 L531.13,742.82 L532.48,742.61 L533.83,742.38 L535.17,742.15 L536.52,741.9 L537.87,741.65 L539.22,741.38 L540.56,741.11 L541.91,740.84 L543.26,740.55 L544.61,740.26 L545.95,739.97 L547.3,739.65 L548.65,739.31 L549.99,738.95 L551.34,738.57 L552.69,738.16 L554.04,737.73 L555.38,737.29 L556.73,736.83 L558.08,736.35 L559.43,735.87 L560.77,735.36 L562.12,734.85 L563.47,734.33 L564.82,733.8 L566.16,733.26 L567.51,732.72 L568.86,732.18 L570.21,731.63 L571.55,731.07 L572.9,730.49 L574.25,729.9 L575.6,729.29 L576.94,728.67 L578.29,728.03 L579.64,727.38 L580.98,726.72 L582.33,726.04 L583.68,725.34 L585.03,724.64 L586.37,723.91 L587.72,723.18 L589.07,722.43 L590.42,721.67 L591.76,720.9 L593.11,720.12 L594.46,719.32 L595.81,718.52 L597.15,717.7 L598.5,716.88 L599.85,716.05 L601.2,715.2 L602.54,714.33 L603.89,713.43 L605.24,712.52 L606.58,711.58 L607.93,710.61 L609.28,709.61 L610.63,708.58 L611.97,707.51 L613.32,706.41 L614.67,705.26 L616.02,704.07 L617.36,702.83 L618.71,701.54 L620.06,700.17 L621.41,698.71 L622.75,697.16 L624.1,695.51 L625.45,693.75 L626.8,691.87 L628.14,689.87 L629.49,687.74 L630.84,685.42 L632.19,682.84 L633.53,680.03 L634.88,677 L636.23,673.76 L637.57,670.33 L638.92,666.74 L640.27,662.99 L641.62,659.11" fill="none" stroke="#48a0a3" stroke-width="1.2" stroke-linejoin="round" stroke-linecap="round" />
<path d="M521.7,636.3 H665.6 V743.9 H521.7 Z" fill="none" stroke="#333" stroke-width="1.3"/>
<line x1="519.2" y1="743.9" x2="521.7" y2="743.9" stroke="#333" stroke-width="1" />
<text x="518.7" y="747" font-size="8.7" text-anchor="end" fill="#1e1e1e" >0.00</text>
<line x1="519.2" y1="722.38" x2="521.7" y2="722.38" stroke="#333" stroke-width="1" />
<text x="518.7" y="725.48" font-size="8.7" text-anchor="end" fill="#1e1e1e" >0.05</text>
<line x1="519.2" y1="700.86" x2="521.7" y2="700.86" stroke="#333" stroke-width="1" />
<text x="518.7" y="703.96" font-size="8.7" text-anchor="end" fill="#1e1e1e" >0.10</text>
<line x1="519.2" y1="679.34" x2="521.7" y2="679.34" stroke="#333" stroke-width="1" />
<text x="518.7" y="682.44" font-size="8.7" text-anchor="end" fill="#1e1e1e" >0.15</text>
<line x1="519.2" y1="657.82" x2="521.7" y2="657.82" stroke="#333" stroke-width="1" />
<text x="518.7" y="660.92" font-size="8.7" text-anchor="end" fill="#1e1e1e" >0.20</text>
<line x1="519.2" y1="636.3" x2="521.7" y2="636.3" stroke="#333" stroke-width="1" />
<text x="518.7" y="639.4" font-size="8.7" text-anchor="end" fill="#1e1e1e" >0.25</text>
<line x1="521.7" y1="743.9" x2="521.7" y2="746.4" stroke="#333" stroke-width="1" />
<text x="521.7" y="753.9" font-size="8.7" text-anchor="middle" fill="#1e1e1e" >0</text>
<line x1="545.68" y1="743.9" x2="545.68" y2="746.4" stroke="#333" stroke-width="1" />
<text x="545.68" y="753.9" font-size="8.7" text-anchor="middle" fill="#1e1e1e" >10</text>
<line x1="569.67" y1="743.9" x2="569.67" y2="746.4" stroke="#333" stroke-width="1" />
<text x="569.67" y="753.9" font-size="8.7" text-anchor="middle" fill="#1e1e1e" >20</text>
<line x1="593.65" y1="743.9" x2="593.65" y2="746.4" stroke="#333" stroke-width="1" />
<text x="593.65" y="753.9" font-size="8.7" text-anchor="middle" fill="#1e1e1e" >30</text>
<line x1="617.63" y1="743.9" x2="617.63" y2="746.4" stroke="#333" stroke-width="1" />
<text x="617.63" y="753.9" font-size="8.7" text-anchor="middle" fill="#1e1e1e" >40</text>
<line x1="641.62" y1="743.9" x2="641.62" y2="746.4" stroke="#333" stroke-width="1" />
<text x="641.62" y="753.9" font-size="8.7" text-anchor="middle" fill="#1e1e1e" >50</text>
<line x1="665.6" y1="743.9" x2="665.6" y2="746.4" stroke="#333" stroke-width="1" />
<text x="665.6" y="753.9" font-size="8.7" text-anchor="middle" fill="#1e1e1e" >60</text>
<text x="593.65" y="765.8" font-size="10.3" text-anchor="middle" fill="#222" >Compression strain (%)</text>
<text transform="translate(495.9,690.1) rotate(-90)" font-size="10.3" text-anchor="middle" fill="#222">Compression stress (MPa)</text>
<line x1="529" y1="646.4" x2="548.4" y2="646.4" stroke="#48a0a3" stroke-width="1.5" />
<text x="550.8" y="649.6" font-size="8.7" text-anchor="start" fill="#222" >1st</text>
<line x1="529" y1="656.7" x2="548.4" y2="656.7" stroke="#a2dcd3" stroke-width="1.5" />
<text x="550.8" y="659.9" font-size="8.7" text-anchor="start" fill="#222" >2nd</text>
<line x1="529" y1="666.9" x2="548.4" y2="666.9" stroke="#c5cf5a" stroke-width="1.5" />
<text x="550.8" y="670.1" font-size="8.7" text-anchor="start" fill="#222" >5th</text>
<line x1="529" y1="677.4" x2="548.4" y2="677.4" stroke="#ecd070" stroke-width="1.5" />
<text x="550.8" y="680.6" font-size="8.7" text-anchor="start" fill="#222" >10th</text>
<line x1="529" y1="687.9" x2="548.4" y2="687.9" stroke="#d5879f" stroke-width="1.5" />
<text x="550.8" y="691.1" font-size="8.7" text-anchor="start" fill="#222" >20th</text>
<g clip-path="url(#cB1)">
<rect x="386" y="20" width="69.5" height="177.8" fill="url(#tealB)" />
<path d="M440.5,68 Q448,75 456,85" stroke="#a8cac4" stroke-width="1" fill="none"/>
<rect x="408" y="20" width="16.5" height="11" fill="#cdc9c1" />
<rect x="424.5" y="20" width="9.5" height="11" fill="#383838" />
<rect x="410.9" y="31" width="15.6" height="8" fill="url(#metal2)" />
<rect x="426.5" y="31" width="3" height="8" fill="#262626" />
<path d="M409.3,39 H432.7 V58 L438.2,59.5 V95 H409.3 Z" fill="url(#grip)"/>
<ellipse cx="411.5" cy="84.5" rx="8.5" ry="15.5" fill="#262626"/>
<rect x="412" y="62" width="4" height="32" fill="#505050" />
<ellipse cx="427.1" cy="80.3" rx="16" ry="16.6" fill="url(#cream)"/>
<circle cx="427.1" cy="80.3" r="5.44" fill="#e2dace" stroke="#c4baa8" stroke-width="0.7"/>
<circle cx="427.1" cy="80.3" r="2.72" fill="#c8bfae" stroke="#a39a88" stroke-width="0.6"/>
<circle cx="427.1" cy="80.3" r="1.12" fill="#f4f0e8"/>
<path d="M417,94 H426 L425.3,128.5 H416.6 Z" fill="url(#strip)"/>
<ellipse cx="422.8" cy="130" rx="16.6" ry="15" fill="#2c2c2c"/>
<path d="M416.6,112 H425.3 V131 H416.6 Z" fill="url(#strip)"/>
<rect x="408.6" y="128.4" width="29.6" height="12" fill="#555553" />
<path d="M416,128.4 H426 V134 H416 Z" fill="#6a6c6a"/>
<rect x="408.6" y="140" width="29.6" height="39" fill="url(#grip)" />
<ellipse cx="424" cy="153" rx="16" ry="16" fill="url(#cream)"/>
<circle cx="424" cy="153" r="5.44" fill="#e2dace" stroke="#c4baa8" stroke-width="0.7"/>
<circle cx="424" cy="153" r="2.72" fill="#c8bfae" stroke="#a39a88" stroke-width="0.6"/>
<circle cx="424" cy="153" r="1.12" fill="#f4f0e8"/>
<rect x="413" y="166" width="20.3" height="14.5" fill="#2a2a2a" />
<rect x="413.6" y="180.6" width="20.9" height="17.5" fill="url(#nut)" />
<path d="M413.6,186 H434.5" stroke="#5a5046" stroke-width="1"/>
<path d="M408.6,157.4 Q396,172 387.5,197" stroke="#a8cac6" stroke-width="1" fill="none"/>
</g>
<text x="429.38" y="188.7" font-size="12.8" font-weight="bold" fill="#fff" text-anchor="middle">1</text>
<text x="437.12" y="188.7" font-size="12.3" font-weight="bold" fill="#fff">cm</text>
<rect x="436.2" y="191.5" width="13.2" height="2.2" fill="#fff" />
<g clip-path="url(#cB2)">
<rect x="489" y="20" width="69.5" height="177.2" fill="url(#tealB)" />
<path d="M540.2,45.8 Q552,75 558.7,108.6" stroke="#b4d2ca" stroke-width="1.3" fill="none"/>
<ellipse cx="519" cy="48" rx="17.5" ry="16.5" fill="#33302c"/>
<rect x="507.6" y="47" width="27" height="9.5" fill="#8c8476" />
<rect x="509" y="47" width="24" height="5" fill="#5a5a58" />
<ellipse cx="525.4" cy="33.5" rx="16" ry="15.5" fill="url(#cream)"/>
<circle cx="525.4" cy="33.5" r="5.44" fill="#e2dace" stroke="#c4baa8" stroke-width="0.7"/>
<circle cx="525.4" cy="33.5" r="2.72" fill="#c8bfae" stroke="#a39a88" stroke-width="0.6"/>
<circle cx="525.4" cy="33.5" r="1.12" fill="#f4f0e8"/>
<path d="M514.5,56 Q516.3,64 516.3,76 L516.8,146 Q516,154 513.7,158.5 H526.6 Q523,154 522.4,146 L523.2,76 Q523.5,62 527,56 Z" fill="url(#strip)"/>
<ellipse cx="521.7" cy="155" rx="17.3" ry="19" fill="#333333"/>
<path d="M516.6,134 L516.8,146 Q516,154 513.7,158.5 H526.6 Q523,154 522.4,146 L522.5,134 Z" fill="url(#strip)"/>
<rect x="507.6" y="159.2" width="28.3" height="38" fill="url(#grip)" />
<rect x="511" y="159.2" width="22" height="4" fill="#6a6a68" />
<ellipse cx="494.5" cy="179.5" rx="4.8" ry="4.6" fill="#3c3c3c"/>
<path d="M491,186 Q500,182 508,176" stroke="#b0c4c4" stroke-width="1" fill="none"/>
<ellipse cx="523" cy="194" rx="16.2" ry="16.2" fill="url(#cream)"/>
<circle cx="523" cy="194" r="5.51" fill="#e2dace" stroke="#c4baa8" stroke-width="0.7"/>
<circle cx="523" cy="194" r="2.75" fill="#c8bfae" stroke="#a39a88" stroke-width="0.6"/>
<circle cx="523" cy="194" r="1.13" fill="#f4f0e8"/>
<path d="M551,150 Q556,130 558,105" stroke="#a8cac4" stroke-width="1" fill="none"/>
</g>
<text x="532.68" y="188.7" font-size="12.8" font-weight="bold" fill="#fff" text-anchor="middle">1</text>
<text x="539.52" y="188.7" font-size="12.3" font-weight="bold" fill="#fff">cm</text>
<rect x="538.8" y="191.5" width="13.2" height="2.2" fill="#fff" />
<g clip-path="url(#cB3)">
<rect x="593" y="20" width="70" height="177.5" fill="url(#tealB3)" />
<path d="M649.1,20 L663,64" stroke="#b4ccc4" stroke-width="1" fill="none"/>
<path d="M652.5,20 L663.5,54" stroke="#a8c4bc" stroke-width="0.7" fill="none"/>
<path d="M609.7,20 H644.2 Q641,36 627,39 Q613,36 609.7,20 Z" fill="#38342e"/>
<rect x="614.6" y="20" width="25.9" height="5.6" fill="#a08c68" />
<rect x="616.5" y="21" width="22" height="3.5" fill="#5a544a" />
<path d="M620.2,24 H631.9 Q629.6,31 629,40 Q628,60 627.8,80 L627.6,180 H622.6 L622.6,80 Q622.4,60 622.3,40 Q622,31 620.2,24 Z" fill="url(#strip3)"/>
<path d="M614.6,197.5 V176 Q614.6,164 628.8,163.5 Q643,164 643,176 V197.5 Z" fill="#3a4444"/>
<path d="M614.6,176 Q614.6,164 628.8,163.5 Q643,164 643,176" fill="none" stroke="#8a9494" stroke-width="1.6"/>
<rect x="614.6" y="179" width="28.4" height="18.5" fill="#2e2a26" />
<rect x="616" y="190" width="26" height="5" fill="#7a766e" />
<path d="M622.6,160 L620.8,197.5 H628.8 L627.6,160 Z" fill="url(#strip3)"/>
<ellipse cx="597" cy="194" rx="7.5" ry="9" fill="#d8dcdc"/>
</g>
<text x="636.18" y="188.7" font-size="12.8" font-weight="bold" fill="#fff" text-anchor="middle">1</text>
<text x="643.42" y="188.7" font-size="12.3" font-weight="bold" fill="#fff">cm</text>
<rect x="642.1" y="191.5" width="13.4" height="2.2" fill="#fff" />
<path d="M458.4,105.8 H480 V102.95 L486.4,108.8 L480,114.64999999999999 V111.8 H458.4 Z" fill="#5b9bd5"/>
<path d="M561.9,105.8 H583.2 V102.95 L589.6,108.8 L583.2,114.64999999999999 V111.8 H561.9 Z" fill="#5b9bd5"/>
<g clip-path="url(#cG1)">
<rect x="346.9" y="411" width="92" height="154.6" fill="url(#cyanG)" />
<rect x="346.9" y="411" width="92" height="4.2" fill="#1e2a2e" />
<rect x="377.4" y="411" width="28.4" height="15" fill="url(#threadL)" />
<rect x="377.4" y="411" width="28.4" height="15" fill="url(#threads)" />
<rect x="370.6" y="425" width="44.20" height="35.00" rx="1.5" fill="url(#metalC)"/>
<rect x="370.6" y="425" width="44.2" height="35" fill="url(#fine)" />
<path d="M371.6,425.6 H413.8" stroke="#d8dada" stroke-width="1"/>
<rect x="386.5" y="459" width="14.3" height="15" fill="#e6ebe6" />
<rect x="386.5" y="459" width="2.5" height="15" fill="#c4ccc8" />
<rect x="351.3" y="474.8" width="83.50" height="37.50" rx="2.5" fill="url(#metalD)"/>
<rect x="351.3" y="475.8" width="83.5" height="35.5" fill="url(#fine)" />
<path d="M353.3,475.5 H432.8" stroke="#e8eaea" stroke-width="1.2"/>
<path d="M354.3,511.49999999999994 H431.8" stroke="#5a5e60" stroke-width="1"/>
<rect x="379.7" y="512" width="28.3" height="10.5" fill="url(#thread)" />
<rect x="379.7" y="512" width="28.3" height="10.5" fill="url(#threads)" />
<rect x="368.4" y="524" width="53.20" height="22.30" rx="2" fill="url(#knurl)"/>
<rect x="368.4" y="524" width="53.2" height="22.3" fill="url(#fine)" />
<ellipse cx="395.00" cy="524" rx="26.60" ry="4.2" fill="#8a9090"/>
<ellipse cx="395.00" cy="523.6" rx="14.65" ry="2.2" fill="#34383a"/>
<circle cx="384.89" cy="538.41" r="4.6" fill="#141414" stroke="#5c5e60" stroke-width="0.9"/>
<circle cx="385.89" cy="539.21" r="0.8" fill="#8a8a8a"/>
<rect x="383.30" y="546.3" width="21.28" height="19.70" fill="url(#metal2)"/>
<rect x="390.74" y="547.3" width="6.38" height="19.70" fill="#3a3e40"/>
<circle cx="393.94" cy="560.3" r="3.2" fill="none" stroke="#b8bcbc" stroke-width="1.2"/>
<path d="M380.30,546.9 H407.58" stroke="#2a2c2e" stroke-width="1.2"/>
</g>
<g clip-path="url(#cG2)">
<rect x="465.5" y="411" width="90.5" height="154.6" fill="url(#cyanG)" />
<rect x="465.5" y="411" width="90.5" height="2.2" fill="#1e2a2e" />
<rect x="496.5" y="419" width="28" height="19" fill="url(#thread)" />
<rect x="496.5" y="419" width="28" height="19" fill="url(#threads)" />
<path d="M482.2,408 H537.8 V415.5 Q537.8,420.5 525.8,420.5 H494.2 Q482.2,420.5 482.2,415.5 Z" fill="url(#knurl)"/>
<path d="M483.2,415.5 Q483.2,420.0 494.2,420.0 H525.8 Q536.8,420.0 536.8,415.5" fill="none" stroke="#5a5c5e" stroke-width="0.8"/>
<rect x="498" y="469" width="26.2" height="7.5" fill="url(#thread)" />
<rect x="489" y="437" width="44.20" height="33.00" rx="1.5" fill="url(#metalC)"/>
<rect x="489" y="437" width="44.2" height="33" fill="url(#fine)" />
<path d="M490,437.6 H532.2" stroke="#d8dada" stroke-width="1"/>
<rect x="467.5" y="475.5" width="85.50" height="36.80" rx="2.5" fill="url(#metalD)"/>
<rect x="467.5" y="476.5" width="85.5" height="34.8" fill="url(#fine)" />
<path d="M469.5,476.2 H551" stroke="#e8eaea" stroke-width="1.2"/>
<path d="M470.5,511.49999999999994 H550" stroke="#5a5e60" stroke-width="1"/>
<rect x="498" y="512" width="26.2" height="10.5" fill="url(#thread)" />
<rect x="498" y="512" width="26.2" height="10.5" fill="url(#threads)" />
<rect x="485.6" y="525.3" width="52.20" height="22.10" rx="2" fill="url(#knurl)"/>
<rect x="485.6" y="525.3" width="52.2" height="22.1" fill="url(#fine)" />
<ellipse cx="511.70" cy="525.3" rx="26.10" ry="4.2" fill="#8a9090"/>
<ellipse cx="511.70" cy="524.9" rx="13.60" ry="2.2" fill="#34383a"/>
<circle cx="501.78" cy="539.57" r="4.6" fill="#141414" stroke="#5c5e60" stroke-width="0.9"/>
<circle cx="502.78" cy="540.37" r="0.8" fill="#8a8a8a"/>
<rect x="500.22" y="547.4" width="20.88" height="18.60" fill="url(#metal2)"/>
<rect x="507.52" y="548.4" width="6.26" height="18.60" fill="#3a3e40"/>
<circle cx="510.66" cy="561.4" r="3.2" fill="none" stroke="#b8bcbc" stroke-width="1.2"/>
<path d="M497.22,548.0 H524.10" stroke="#2a2c2e" stroke-width="1.2"/>
</g>
<g clip-path="url(#cG3)">
<rect x="584.5" y="411" width="91.4" height="154.6" fill="url(#cyanG)" />
<rect x="584.5" y="411" width="91.4" height="4.2" fill="#1e2a2e" />
<rect x="615" y="411" width="28.5" height="16" fill="url(#threadL)" />
<rect x="615" y="411" width="28.5" height="16" fill="url(#threads)" />
<rect x="607.2" y="426" width="44.70" height="35.30" rx="1.5" fill="url(#metalC)"/>
<rect x="607.2" y="426" width="44.7" height="35.3" fill="url(#fine)" />
<path d="M608.2,426.6 H650.9" stroke="#d8dada" stroke-width="1"/>
<rect x="622" y="460" width="15.8" height="17" fill="#e6ebe6" />
<rect x="622" y="460" width="2.5" height="17" fill="#c4ccc8" />
<rect x="585.6" y="476.7" width="88.50" height="37.90" rx="2.5" fill="url(#metalD)"/>
<rect x="585.6" y="477.7" width="88.5" height="35.9" fill="url(#fine)" />
<path d="M587.6,477.4 H672.1" stroke="#e8eaea" stroke-width="1.2"/>
<path d="M588.6,513.8000000000001 H671.1" stroke="#5a5e60" stroke-width="1"/>
<rect x="617.4" y="514" width="27.2" height="11" fill="url(#thread)" />
<rect x="617.4" y="514" width="27.2" height="11" fill="url(#threads)" />
<rect x="603.8" y="525.4" width="54.00" height="23.20" rx="2" fill="url(#knurl)"/>
<rect x="603.8" y="525.4" width="54" height="23.2" fill="url(#fine)" />
<ellipse cx="630.80" cy="525.4" rx="27.00" ry="4.2" fill="#8a9090"/>
<ellipse cx="630.80" cy="525.0" rx="14.10" ry="2.2" fill="#34383a"/>
<circle cx="620.54" cy="540.44" r="4.6" fill="#141414" stroke="#5c5e60" stroke-width="0.9"/>
<circle cx="621.54" cy="541.24" r="0.8" fill="#8a8a8a"/>
<rect x="618.92" y="548.6" width="21.60" height="17.40" fill="url(#metal2)"/>
<rect x="626.48" y="549.6" width="6.48" height="17.40" fill="#3a3e40"/>
<circle cx="629.72" cy="562.6" r="3.2" fill="none" stroke="#b8bcbc" stroke-width="1.2"/>
<path d="M615.92,549.2 H643.52" stroke="#2a2c2e" stroke-width="1.2"/>
</g>
<text x="403.12" y="553.6" font-size="16.2" font-weight="bold" fill="#fff" text-anchor="middle">1</text>
<text x="412.69" y="553.6" font-size="15.6" font-weight="bold" fill="#fff">cm</text>
<rect x="408" y="558.2" width="22.8" height="2.9" fill="#fff" />
<text x="521.12" y="552.5" font-size="16.2" font-weight="bold" fill="#fff" text-anchor="middle">1</text>
<text x="530.69" y="552.5" font-size="15.6" font-weight="bold" fill="#fff">cm</text>
<rect x="526.2" y="557" width="22.6" height="3" fill="#fff" />
<text x="640.77" y="552.5" font-size="16.2" font-weight="bold" fill="#fff" text-anchor="middle">1</text>
<text x="650.39" y="552.5" font-size="15.6" font-weight="bold" fill="#fff">cm</text>
<rect x="645.8" y="557" width="22.4" height="3" fill="#fff" />
<path d="M442,482.45 H455 V477.45 L463,485.2 L455,492.95 V487.95 H442 Z" fill="#5b9bd5"/>
<path d="M559.5,482.45 H573 V477.45 L581,485.2 L573,492.95 V487.95 H559.5 Z" fill="#5b9bd5"/>
</svg></body></html>
